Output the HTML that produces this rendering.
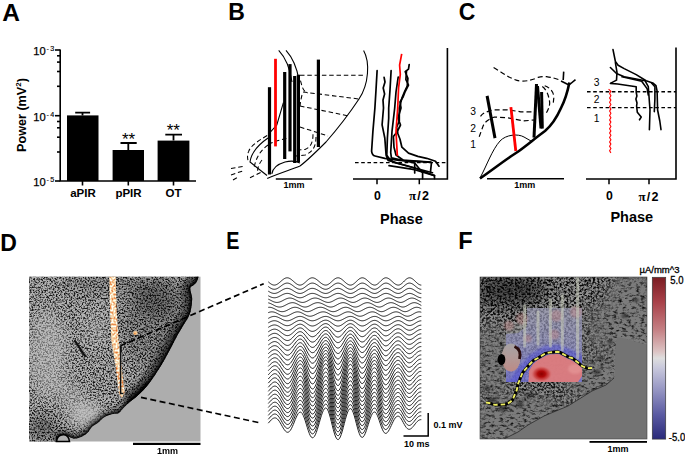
<!DOCTYPE html>
<html><head><meta charset="utf-8"><style>
html,body{margin:0;padding:0;background:#fff;}
svg{display:block;}
</style></head><body>
<svg width="685" height="455" viewBox="0 0 685 455">
<text x="2.2" y="21" font-family="Liberation Sans" font-weight="bold" font-size="24.5">A</text>
<text x="228.3" y="20.3" font-family="Liberation Sans" font-weight="bold" font-size="23">B</text>
<text x="458.8" y="20.3" font-family="Liberation Sans" font-weight="bold" font-size="23">C</text>
<text x="0.3" y="251.2" font-family="Liberation Sans" font-weight="bold" font-size="23">D</text>
<text x="226.2" y="249.4" font-family="Liberation Sans" font-weight="bold" font-size="23" transform="translate(226.2 0) scale(0.86 1) translate(-226.2 0)">E</text>
<text x="458.3" y="248.8" font-family="Liberation Sans" font-weight="bold" font-size="23.5">F</text>
<g stroke="#000" stroke-width="1.6" fill="none">
<path d="M60.2 49.5 V181 H196"/>
<path d="M55 50 H60.2"/>
<path d="M55 115.7 H60.2"/>
<path d="M55 181 H60.2"/>
<path d="M57 55.8 H60.2"/>
<path d="M57 62.1 H60.2"/>
<path d="M57 71.5 H60.2"/>
<path d="M57 86.3 H60.2"/>
<path d="M57 121.5 H60.2"/>
<path d="M57 127.8 H60.2"/>
<path d="M57 137.2 H60.2"/>
<path d="M57 152.0 H60.2"/>
<path d="M82.5 181 V185.5"/>
<path d="M128.3 181 V185.5"/>
<path d="M173.5 181 V185.5"/>
<path d="M82.5 115.4 V112.7 M75.2 112.7 H90.1" stroke-width="1.8"/>
<path d="M128.3 150 V143 M120.5 143 H136.7" stroke-width="1.8"/>
<path d="M173.5 140.6 V134.7 M165.3 134.7 H182" stroke-width="1.8"/>
</g>
<g fill="#000">
<rect x="67" y="115.4" width="31.5" height="65.6"/>
<rect x="112.6" y="150" width="31.400000000000006" height="31"/>
<rect x="157.6" y="140.6" width="31.80000000000001" height="40.400000000000006"/>
</g>
<text x="45.8" y="55" font-family="Liberation Sans" font-size="11.2" text-anchor="end" stroke="#000" stroke-width="0.25">10</text>
<text x="46.4" y="51.3" font-family="Liberation Sans" font-size="7.2" stroke="#000" stroke-width="0.15">-</text>
<text x="50.2" y="51.3" font-family="Liberation Sans" font-size="7.2" stroke="#000" stroke-width="0.15">3</text>
<text x="45.8" y="120.7" font-family="Liberation Sans" font-size="11.2" text-anchor="end" stroke="#000" stroke-width="0.25">10</text>
<text x="46.4" y="117.0" font-family="Liberation Sans" font-size="7.2" stroke="#000" stroke-width="0.15">-</text>
<text x="50.2" y="117.0" font-family="Liberation Sans" font-size="7.2" stroke="#000" stroke-width="0.15">4</text>
<text x="45.8" y="185.8" font-family="Liberation Sans" font-size="11.2" text-anchor="end" stroke="#000" stroke-width="0.25">10</text>
<text x="46.4" y="182.10000000000002" font-family="Liberation Sans" font-size="7.2" stroke="#000" stroke-width="0.15">-</text>
<text x="50.2" y="182.10000000000002" font-family="Liberation Sans" font-size="7.2" stroke="#000" stroke-width="0.15">5</text>
<text x="83" y="196.5" font-family="Liberation Sans" font-weight="bold" font-size="11.5" text-anchor="middle">aPIR</text>
<text x="128.5" y="196.5" font-family="Liberation Sans" font-weight="bold" font-size="11.5" text-anchor="middle">pPIR</text>
<text x="173.5" y="196.5" font-family="Liberation Sans" font-weight="bold" font-size="11.5" text-anchor="middle">OT</text>
<text x="128.5" y="145" font-family="Liberation Sans" font-size="17" text-anchor="middle">**</text>
<text x="173.3" y="136.3" font-family="Liberation Sans" font-size="17" text-anchor="middle">**</text>
<text transform="translate(25.6 115) rotate(-90)" font-family="Liberation Sans" font-weight="bold" font-size="12.6" text-anchor="middle">Power (mV<tspan font-size="8" dy="-5">2</tspan><tspan dy="5">)</tspan></text>
<g fill="none" stroke="#000" stroke-width="1.1">
<path d="M363.6 50.6 C370 62 369 84 359 99 C351 111 340 126 326 142 C318 150 308 160 300 166 C290 170 280 173 267.2 178.4"/>
<path d="M278.7 50.3 C286 58 290 68 292 82"/>
<path d="M286 50.3 C293 58 297 68 299 80"/>
<path d="M283.4 102.6 L276.8 125 L268.2 134.3"/>
<path d="M268 138 C258 145 251 153 250 162 L267 175.5"/>
<path d="M271.8 173.8 C273 167 278 164 285 162 C291 160.5 296 161 300 163"/>
</g>
<g fill="none" stroke="#000" stroke-width="1.05" stroke-dasharray="4.5 2.8">
<path d="M300 75.3 H365"/>
<path d="M303 92 L359 99"/>
<path d="M300 106 L349 116"/>
<path d="M300 127 L328 136"/>
<path d="M300.5 80.6 C302 86 302.5 91 307.7 93.1"/>
<path d="M302 95 C301 99 300.5 102 300 106"/>
<path d="M313 134.3 C313 142 311 147 305 149.5 L296 150"/>
<path d="M316 137 C316 146 313 152 305 155 L296 156"/>
<path d="M267.2 135.5 C256 142 250 147 248.7 151.4 C247 155 247.5 158 248 160.6"/>
<path d="M268 145 C261 150 256 157 254 168"/>
<path d="M268.2 144.2 C276 141 282 139 289.3 138.2"/>
<path d="M262 160 C258 165 257 170 258 174"/>
<path d="M231 168.5 L243 166.5"/>
<path d="M231 175 L244 170.5"/>
<path d="M233 180 L238 177"/>
<path d="M250 177.7 L260.6 172.5"/>
</g>
<g stroke="#000" stroke-width="3.2" fill="none">
<path d="M269.5 87.2 V174.5"/>
<path d="M284.7 72 V159"/>
<path d="M290 64.1 V151.4"/>
<path d="M294.7 76 V163"/>
<path d="M298.4 74.7 V162"/>
<path d="M318.4 59.6 V147"/>
</g>
<path d="M275.5 58.8 V146.4" stroke="#f00" stroke-width="2.8"/>
<path d="M275.8 179 H312.2" stroke="#000" stroke-width="1.6"/>
<text x="294" y="187.8" font-family="Liberation Sans" font-weight="bold" font-size="9" text-anchor="middle">1mm</text>
<path d="M447.4 48 V179 H353" fill="none" stroke="#000" stroke-width="1.6"/>
<path d="M377 179 V184.3 M419.3 179 V184.3" stroke="#000" stroke-width="1.5"/>
<path d="M355 162.6 H447.4" stroke="#000" stroke-width="1.4" stroke-dasharray="3.6 2.6"/>
<g fill="none" stroke="#000" stroke-width="1.7" stroke-linejoin="round" stroke-linecap="round">
<path d="M377.1 70.7 L376 90 L374.9 108 L372.9 131.4 L371.6 151.2 Q372 155.5 375 156 L384.8 158.4 L399.3 160.4 L431.5 162.3 L430.5 171.7"/>
<path d="M384.1 77.3 L385 82 L383.2 88 L384.6 94 L383 100 L383.5 108 L382.1 124.8 L384.8 138 L386.1 155.1 L388.1 160.4 L414.7 168 L434.5 175.6 V178.6"/>
<path d="M391.1 70.7 L390 90 L388.7 108 L388.7 118.2 L387.4 138 L386.8 155.1 Q390 161 396 163 L432.5 172.7"/>
<path d="M398.2 77 L396 92 L394.7 108 L392 131.4 L390.7 152.5 L391.4 157.8 L414.7 163 L422.6 172.7 V178.6"/>
<path d="M409.2 64.5 L408.5 69.1 L405.2 71.7 L407.9 78.3 L407.2 86.2 L404.6 91.5 L401.9 98.1 L400.6 103.4 L399.3 108 L399.3 120.8 L396.6 127.4 L398 134 L400 139.3 L401.9 147.2 L408.5 153.1 L417.8 156.4 L426.6 158.3 L435.5 161.3 L439 166.2"/>
<path d="M406.5 71 L405.9 79.6 L408.5 85 L405.2 91.5 L403.2 96.8 L400 102 L401 108 L398 118 L400.5 125 L397 132 L393.4 136.6 L394 147.2 L396 155 L403 160 L430.5 162"/>
<path d="M389 165.7 L414.7 169.7 L434.5 175.6"/>
<path d="M414.7 163 V173"/>
</g>
<path d="M401.7 53.9 L399.6 65.1 L400.3 74.4 L398.6 87.6 L397.7 108 L396 131.4 L397.3 155.1 L397.9 155.8" fill="none" stroke="#f00" stroke-width="1.7"/>
<text x="377.4" y="199.7" font-family="Liberation Sans" font-weight="bold" font-size="12.3" text-anchor="middle">0</text>
<text x="409" y="200" font-family="Liberation Serif" font-weight="bold" font-size="13">π</text><text x="417.2" y="200" font-family="Liberation Sans" font-weight="bold" font-size="12.5">/</text><text x="422.1" y="200" font-family="Liberation Sans" font-weight="bold" font-size="12.5">2</text>
<text x="401.4" y="223.8" font-family="Liberation Sans" font-weight="bold" font-size="14.5" text-anchor="middle">Phase</text>
<g fill="none" stroke="#000" stroke-width="1.2" stroke-dasharray="5 3">
<path d="M493.6 67.6 C503 73 512 80 520 81 C527 81.5 532 80 538.1 77.4 C541 76.6 544 76.4 546.4 76.6 C552 77.5 556 78.5 559.6 79.9"/>
<path d="M480.5 116.4 C483 113 486 111.5 494.4 109.8 L507.6 109.8 L520.7 111.8 L534 112"/>
<path d="M479.2 136.8 L482.5 127.6 C484 123 486 120.5 494.4 117 L507.6 117.7 L523.4 121 L534 120"/>
<path d="M542.3 86.5 C546 89 549 95 549.7 103 C549.5 107 548 110 546.4 112.9"/>
<path d="M544.7 85.7 C551 88 554 93 553.8 98 L553 105.4"/>
</g>
<path d="M480 178 C487 165 492 150 500 141 C506 134.5 518 133.5 524 137 L531 141" fill="none" stroke="#000" stroke-width="1"/>
<path d="M480 178.5 C495 168 505 160 516 153 C525 147 534 139 545 131 C552 125 557 117 561 108 C565 100 567.5 92 569.4 82.4" fill="none" stroke="#000" stroke-width="2.6"/>
<path d="M569 85 L575.5 79.6 M569 85 L561 81 M563.7 71.6 L563.2 80" fill="none" stroke="#000" stroke-width="1.6"/>
<g stroke="#000" stroke-width="3" fill="none">
<path d="M487.1 95.9 L495 138.1"/><path d="M536.5 84 L534 137.6"/><path d="M537.5 86 L541 128.5"/><path d="M541.6 92 L542.3 128.5"/>
</g>
<path d="M510.9 107.1 L515.8 151" stroke="#f00" stroke-width="2.8"/>
<text x="470.2" y="115" font-family="Liberation Sans" font-size="10.3">3</text>
<text x="470.2" y="132.2" font-family="Liberation Sans" font-size="10.3">2</text>
<text x="470.2" y="148" font-family="Liberation Sans" font-size="10.3">1</text>
<path d="M487 178.8 H564" stroke="#000" stroke-width="1.6"/>
<text x="524.7" y="188.4" font-family="Liberation Sans" font-weight="bold" font-size="9" text-anchor="middle">1mm</text>
<path d="M676 47.6 V179 H586" fill="none" stroke="#000" stroke-width="1.6"/>
<path d="M609 179 V184.3 M649 179 V184.3" stroke="#000" stroke-width="1.5"/>
<path d="M587 91.7 H676 M587 107.6 H676" stroke="#000" stroke-width="1.4" stroke-dasharray="3.6 2.6"/>
<text x="593.8" y="86" font-family="Liberation Sans" font-size="10.3">3</text>
<text x="593.8" y="103" font-family="Liberation Sans" font-size="10.3">2</text>
<text x="593.8" y="122" font-family="Liberation Sans" font-size="10.3">1</text>
<g fill="none" stroke="#000" stroke-width="1.6" stroke-linejoin="round" stroke-linecap="round">
<path d="M613 49.6 L615.4 61.5 L618.1 65.3 L624.2 68.6 L636.2 74.6 L646.1 80.7 L652.7 82.9 L656 85.6 L657.1 91.1 L657.6 110 L659.8 121 L661 129.7"/>
<path d="M610.4 67.5 L616.5 73.5 L624.2 76.8 L636.2 79 L645 80.7 L648.3 86.7 L648.9 95 L650 110 L649.4 129.7"/>
<path d="M615.4 62.6 L617 72.4 L616.5 80.1 L610.4 83.4 L617.6 84 L636.2 86.7 L636.2 92 L636.9 96 L635.9 99 L637 103 L636.6 106 L637.3 112.2 L641.2 117.1 L639.5 119.8"/>
<path d="M622 76.8 L641.7 81.2 L647.2 88.9 L648.3 95"/>
<path d="M651.6 82.9 L654.9 86.7 L654.9 99 L654.3 111.6"/>
</g>
<path d="M608.6 89.1 L610.9 91.3 L609.6 93.5 L610.9 95.7 L609.6 97.9 L610.9 100.1 L609.6 102.3 L610.9 104.5 L609.6 106.7 L610.9 108.9 L609.6 111.1 L610.9 113.3 L609.6 115.5 L610.9 117.7 L609.6 119.9 L610.9 122.1 L609.6 124.3 L610.9 126.5 L609.6 128.7 L610.9 130.9 L609.6 133.1 L610.9 135.3 L609.6 137.5 L610.9 139.7 L609.6 141.9 L610.9 144.1 L609.6 146.3 L610.9 148.5 L609.6 150.7 L610.9 152.9" fill="none" stroke="#f00" stroke-width="1.1"/>
<text x="609.3" y="200.2" font-family="Liberation Sans" font-weight="bold" font-size="12.3" text-anchor="middle">0</text>
<text x="638.5" y="201.2" font-family="Liberation Serif" font-weight="bold" font-size="13">π</text><text x="646.7" y="201.2" font-family="Liberation Sans" font-weight="bold" font-size="12.5">/</text><text x="651.6" y="201.2" font-family="Liberation Sans" font-weight="bold" font-size="12.5">2</text>
<text x="631.8" y="222" font-family="Liberation Sans" font-weight="bold" font-size="14.5" text-anchor="middle">Phase</text>
<g fill="none" stroke="#202020" stroke-width="1.0">
<path d="M268.3 281.85 L269.3 282.71 L270.3 283.50 L271.3 284.17 L272.3 284.68 L273.3 284.99 L274.3 285.10 L275.3 284.99 L276.3 284.68 L277.3 284.17 L278.3 283.50 L279.3 282.71 L280.3 281.85 L281.3 280.96 L282.3 280.10 L283.3 279.33 L284.3 278.67 L285.3 278.18 L286.3 277.89 L287.3 277.80 L288.3 277.93 L289.3 278.27 L290.3 278.81 L291.3 279.50 L292.3 280.31 L293.3 281.18 L294.3 282.07 L295.3 282.93 L296.3 283.70 L297.3 284.33 L298.3 284.79 L299.3 285.05 L300.3 285.09 L301.3 284.90 L302.3 284.49 L303.3 283.88 L304.3 283.11 L305.3 282.24 L306.3 281.31 L307.3 280.39 L308.3 279.54 L309.3 278.82 L310.3 278.27 L311.3 277.92 L312.3 277.80 L313.3 277.90 L314.3 278.19 L315.3 278.67 L316.3 279.29 L317.3 280.03 L318.3 280.85 L319.3 281.71 L320.3 282.55 L321.3 283.32 L322.3 284.00 L323.3 284.54 L324.3 284.91 L325.3 285.08 L326.3 285.06 L327.3 284.80 L328.3 284.32 L329.3 283.66 L330.3 282.86 L331.3 281.96 L332.3 281.03 L333.3 280.13 L334.3 279.31 L335.3 278.63 L336.3 278.14 L337.3 277.86 L338.3 277.81 L339.3 277.99 L340.3 278.39 L341.3 278.99 L342.3 279.73 L343.3 280.59 L344.3 281.50 L345.3 282.40 L346.3 283.25 L347.3 283.98 L348.3 284.56 L349.3 284.94 L350.3 285.10 L351.3 285.02 L352.3 284.69 L353.3 284.13 L354.3 283.39 L355.3 282.50 L356.3 281.55 L357.3 280.58 L358.3 279.68 L359.3 278.90 L360.3 278.31 L361.3 277.93 L362.3 277.80 L363.3 277.92 L364.3 278.26 L365.3 278.80 L366.3 279.52 L367.3 280.36 L368.3 281.27 L369.3 282.18 L370.3 283.06 L371.3 283.83 L372.3 284.45 L373.3 284.87 L374.3 285.08 L375.3 285.05 L376.3 284.74 L377.3 284.17 L378.3 283.39 L379.3 282.46 L380.3 281.45 L381.3 280.44 L382.3 279.51 L383.3 278.73 L384.3 278.16 L385.3 277.85 L386.3 277.82 L387.3 278.03 L388.3 278.45 L389.3 279.07 L390.3 279.84 L391.3 280.72 L392.3 281.63 L393.3 282.54 L394.3 283.38 L395.3 284.10 L396.3 284.64 L397.3 284.98 L398.3 285.10 L399.3 284.96 L400.3 284.54 L401.3 283.88 L402.3 283.03 L403.3 282.06 L404.3 281.04 L405.3 280.05 L406.3 279.17 L407.3 278.47 L408.3 278.00 L409.3 277.81 L410.3 277.88 L411.3 278.21 L412.3 278.77 L413.3 279.51 L414.3 280.40 L415.3 281.35 L416.3 282.32 L417.3 283.22 L418.3 284.00 L419.3 284.59 L420.3 284.97 L421.3 285.10"/>
<path d="M268.3 286.53 L269.3 287.26 L270.3 287.93 L271.3 288.50 L272.3 288.93 L273.3 289.20 L274.3 289.29 L275.3 289.20 L276.3 288.93 L277.3 288.50 L278.3 287.93 L279.3 287.26 L280.3 286.53 L281.3 285.77 L282.3 285.04 L283.3 284.38 L284.3 283.83 L285.3 283.41 L286.3 283.16 L287.3 283.09 L288.3 283.20 L289.3 283.49 L290.3 283.94 L291.3 284.53 L292.3 285.21 L293.3 285.96 L294.3 286.72 L295.3 287.44 L296.3 288.09 L297.3 288.63 L298.3 289.02 L299.3 289.24 L300.3 289.28 L301.3 289.12 L302.3 288.77 L303.3 288.25 L304.3 287.60 L305.3 286.85 L306.3 286.07 L307.3 285.29 L308.3 284.57 L309.3 283.95 L310.3 283.48 L311.3 283.19 L312.3 283.09 L313.3 283.17 L314.3 283.42 L315.3 283.82 L316.3 284.35 L317.3 284.98 L318.3 285.68 L319.3 286.40 L320.3 287.12 L321.3 287.78 L322.3 288.35 L323.3 288.81 L324.3 289.12 L325.3 289.27 L326.3 289.25 L327.3 289.03 L328.3 288.63 L329.3 288.07 L330.3 287.38 L331.3 286.62 L332.3 285.83 L333.3 285.06 L334.3 284.37 L335.3 283.79 L336.3 283.37 L337.3 283.14 L338.3 283.09 L339.3 283.25 L340.3 283.59 L341.3 284.09 L342.3 284.73 L343.3 285.45 L344.3 286.23 L345.3 287.00 L346.3 287.71 L347.3 288.34 L348.3 288.83 L349.3 289.15 L350.3 289.28 L351.3 289.22 L352.3 288.94 L353.3 288.47 L354.3 287.83 L355.3 287.08 L356.3 286.27 L357.3 285.45 L358.3 284.68 L359.3 284.02 L360.3 283.52 L361.3 283.20 L362.3 283.09 L363.3 283.18 L364.3 283.48 L365.3 283.94 L366.3 284.55 L367.3 285.26 L368.3 286.03 L369.3 286.81 L370.3 287.55 L371.3 288.21 L372.3 288.73 L373.3 289.09 L374.3 289.27 L375.3 289.24 L376.3 288.98 L377.3 288.50 L378.3 287.84 L379.3 287.05 L380.3 286.19 L381.3 285.33 L382.3 284.54 L383.3 283.87 L384.3 283.39 L385.3 283.13 L386.3 283.10 L387.3 283.28 L388.3 283.64 L389.3 284.17 L390.3 284.82 L391.3 285.56 L392.3 286.34 L393.3 287.11 L394.3 287.83 L395.3 288.43 L396.3 288.90 L397.3 289.19 L398.3 289.29 L399.3 289.17 L400.3 288.81 L401.3 288.25 L402.3 287.53 L403.3 286.71 L404.3 285.84 L405.3 285.00 L406.3 284.25 L407.3 283.66 L408.3 283.26 L409.3 283.09 L410.3 283.16 L411.3 283.44 L412.3 283.91 L413.3 284.54 L414.3 285.29 L415.3 286.10 L416.3 286.92 L417.3 287.69 L418.3 288.35 L419.3 288.86 L420.3 289.18 L421.3 289.29"/>
<path d="M268.3 291.18 L269.3 291.78 L270.3 292.33 L271.3 292.80 L272.3 293.15 L273.3 293.37 L274.3 293.45 L275.3 293.37 L276.3 293.15 L277.3 292.80 L278.3 292.33 L279.3 291.78 L280.3 291.18 L281.3 290.56 L282.3 289.96 L283.3 289.41 L284.3 288.96 L285.3 288.61 L286.3 288.41 L287.3 288.35 L288.3 288.44 L289.3 288.68 L290.3 289.05 L291.3 289.53 L292.3 290.10 L293.3 290.71 L294.3 291.33 L295.3 291.93 L296.3 292.47 L297.3 292.91 L298.3 293.23 L299.3 293.41 L300.3 293.44 L301.3 293.31 L302.3 293.02 L303.3 292.59 L304.3 292.06 L305.3 291.45 L306.3 290.80 L307.3 290.16 L308.3 289.56 L309.3 289.06 L310.3 288.67 L311.3 288.43 L312.3 288.35 L313.3 288.41 L314.3 288.62 L315.3 288.95 L316.3 289.39 L317.3 289.91 L318.3 290.48 L319.3 291.08 L320.3 291.66 L321.3 292.21 L322.3 292.68 L323.3 293.05 L324.3 293.31 L325.3 293.44 L326.3 293.42 L327.3 293.24 L328.3 292.91 L329.3 292.44 L330.3 291.88 L331.3 291.25 L332.3 290.60 L333.3 289.97 L334.3 289.40 L335.3 288.93 L336.3 288.58 L337.3 288.39 L338.3 288.35 L339.3 288.48 L340.3 288.76 L341.3 289.17 L342.3 289.70 L343.3 290.29 L344.3 290.93 L345.3 291.56 L346.3 292.15 L347.3 292.67 L348.3 293.07 L349.3 293.33 L350.3 293.44 L351.3 293.39 L352.3 293.16 L353.3 292.77 L354.3 292.25 L355.3 291.63 L356.3 290.96 L357.3 290.29 L358.3 289.66 L359.3 289.12 L360.3 288.70 L361.3 288.44 L362.3 288.35 L363.3 288.43 L364.3 288.67 L365.3 289.05 L366.3 289.55 L367.3 290.13 L368.3 290.77 L369.3 291.41 L370.3 292.02 L371.3 292.56 L372.3 292.99 L373.3 293.29 L374.3 293.44 L375.3 293.41 L376.3 293.20 L377.3 292.80 L378.3 292.25 L379.3 291.60 L380.3 290.90 L381.3 290.19 L382.3 289.54 L383.3 288.99 L384.3 288.60 L385.3 288.38 L386.3 288.36 L387.3 288.50 L388.3 288.80 L389.3 289.23 L390.3 289.77 L391.3 290.38 L392.3 291.03 L393.3 291.66 L394.3 292.25 L395.3 292.75 L396.3 293.13 L397.3 293.37 L398.3 293.45 L399.3 293.35 L400.3 293.06 L401.3 292.60 L402.3 292.00 L403.3 291.32 L404.3 290.61 L405.3 289.92 L406.3 289.31 L407.3 288.82 L408.3 288.49 L409.3 288.35 L410.3 288.40 L411.3 288.63 L412.3 289.02 L413.3 289.54 L414.3 290.16 L415.3 290.83 L416.3 291.50 L417.3 292.13 L418.3 292.68 L419.3 293.09 L420.3 293.36 L421.3 293.45"/>
<path d="M268.3 295.78 L269.3 296.30 L270.3 296.78 L271.3 297.19 L272.3 297.50 L273.3 297.70 L274.3 297.78 L275.3 297.72 L276.3 297.54 L277.3 297.25 L278.3 296.85 L279.3 296.38 L280.3 295.86 L281.3 295.33 L282.3 294.81 L283.3 294.33 L284.3 293.93 L285.3 293.63 L286.3 293.44 L287.3 293.38 L288.3 293.45 L289.3 293.65 L290.3 293.96 L291.3 294.37 L292.3 294.85 L293.3 295.38 L294.3 295.91 L295.3 296.43 L296.3 296.90 L297.3 297.29 L298.3 297.57 L299.3 297.74 L300.3 297.78 L301.3 297.67 L302.3 297.43 L303.3 297.07 L304.3 296.62 L305.3 296.09 L306.3 295.54 L307.3 294.98 L308.3 294.47 L309.3 294.02 L310.3 293.68 L311.3 293.46 L312.3 293.38 L313.3 293.43 L314.3 293.60 L315.3 293.88 L316.3 294.25 L317.3 294.69 L318.3 295.18 L319.3 295.69 L320.3 296.20 L321.3 296.67 L322.3 297.09 L323.3 297.42 L324.3 297.65 L325.3 297.77 L326.3 297.76 L327.3 297.62 L328.3 297.34 L329.3 296.95 L330.3 296.47 L331.3 295.93 L332.3 295.37 L333.3 294.82 L334.3 294.33 L335.3 293.91 L336.3 293.60 L337.3 293.42 L338.3 293.38 L339.3 293.48 L340.3 293.71 L341.3 294.06 L342.3 294.51 L343.3 295.02 L344.3 295.57 L345.3 296.11 L346.3 296.63 L347.3 297.08 L348.3 297.43 L349.3 297.67 L350.3 297.77 L351.3 297.74 L352.3 297.55 L353.3 297.22 L354.3 296.78 L355.3 296.26 L356.3 295.68 L357.3 295.10 L358.3 294.55 L359.3 294.08 L360.3 293.71 L361.3 293.47 L362.3 293.38 L363.3 293.44 L364.3 293.64 L365.3 293.96 L366.3 294.38 L367.3 294.88 L368.3 295.43 L369.3 295.98 L370.3 296.51 L371.3 296.98 L372.3 297.36 L373.3 297.63 L374.3 297.76 L375.3 297.76 L376.3 297.58 L377.3 297.25 L378.3 296.79 L379.3 296.23 L380.3 295.62 L381.3 295.01 L382.3 294.45 L383.3 293.97 L384.3 293.62 L385.3 293.42 L386.3 293.39 L387.3 293.50 L388.3 293.75 L389.3 294.12 L390.3 294.57 L391.3 295.10 L392.3 295.65 L393.3 296.20 L394.3 296.71 L395.3 297.15 L396.3 297.48 L397.3 297.70 L398.3 297.78 L399.3 297.71 L400.3 297.46 L401.3 297.08 L402.3 296.57 L403.3 295.99 L404.3 295.38 L405.3 294.78 L406.3 294.24 L407.3 293.81 L408.3 293.52 L409.3 293.39 L410.3 293.42 L411.3 293.61 L412.3 293.94 L413.3 294.38 L414.3 294.90 L415.3 295.48 L416.3 296.06 L417.3 296.61 L418.3 297.08 L419.3 297.45 L420.3 297.69 L421.3 297.78"/>
<path d="M268.3 299.10 L269.3 299.59 L270.3 300.11 L271.3 300.64 L272.3 301.15 L273.3 301.61 L274.3 301.98 L275.3 302.25 L276.3 302.41 L277.3 302.43 L278.3 302.32 L279.3 302.10 L280.3 301.76 L281.3 301.33 L282.3 300.84 L283.3 300.31 L284.3 299.78 L285.3 299.27 L286.3 298.82 L287.3 298.46 L288.3 298.20 L289.3 298.06 L290.3 298.05 L291.3 298.17 L292.3 298.42 L293.3 298.77 L294.3 299.22 L295.3 299.72 L296.3 300.26 L297.3 300.79 L298.3 301.29 L299.3 301.73 L300.3 302.08 L301.3 302.32 L302.3 302.43 L303.3 302.40 L304.3 302.22 L305.3 301.92 L306.3 301.51 L307.3 301.01 L308.3 300.47 L309.3 299.91 L310.3 299.37 L311.3 298.88 L312.3 298.49 L313.3 298.23 L314.3 298.07 L315.3 298.04 L316.3 298.12 L317.3 298.33 L318.3 298.63 L319.3 299.02 L320.3 299.48 L321.3 299.99 L322.3 300.50 L323.3 301.00 L324.3 301.46 L325.3 301.85 L326.3 302.17 L327.3 302.37 L328.3 302.44 L329.3 302.36 L330.3 302.14 L331.3 301.81 L332.3 301.37 L333.3 300.85 L334.3 300.30 L335.3 299.74 L336.3 299.22 L337.3 298.76 L338.3 298.39 L339.3 298.15 L340.3 298.04 L341.3 298.07 L342.3 298.23 L343.3 298.52 L344.3 298.92 L345.3 299.40 L346.3 299.93 L347.3 300.48 L348.3 301.02 L349.3 301.51 L350.3 301.91 L351.3 302.23 L352.3 302.40 L353.3 302.43 L354.3 302.30 L355.3 302.02 L356.3 301.62 L357.3 301.12 L358.3 300.56 L359.3 299.98 L360.3 299.41 L361.3 298.90 L362.3 298.49 L363.3 298.21 L364.3 298.06 L365.3 298.05 L366.3 298.18 L367.3 298.44 L368.3 298.81 L369.3 299.28 L370.3 299.80 L371.3 300.36 L372.3 300.91 L373.3 301.41 L374.3 301.84 L375.3 302.18 L376.3 302.39 L377.3 302.43 L378.3 302.30 L379.3 302.01 L380.3 301.57 L381.3 301.04 L382.3 300.44 L383.3 299.83 L384.3 299.24 L385.3 298.74 L386.3 298.36 L387.3 298.13 L388.3 298.04 L389.3 298.08 L390.3 298.27 L391.3 298.57 L392.3 298.99 L393.3 299.48 L394.3 300.03 L395.3 300.58 L396.3 301.11 L397.3 301.59 L398.3 301.98 L399.3 302.29 L400.3 302.43 L401.3 302.40 L402.3 302.20 L403.3 301.85 L404.3 301.37 L405.3 300.80 L406.3 300.19 L407.3 299.59 L408.3 299.03 L409.3 298.57 L410.3 298.25 L411.3 298.07 L412.3 298.05 L413.3 298.18 L414.3 298.45 L415.3 298.85 L416.3 299.35 L417.3 299.91 L418.3 300.50 L419.3 301.06 L420.3 301.57 L421.3 301.98"/>
<path d="M268.3 302.83 L269.3 303.10 L270.3 303.46 L271.3 303.91 L272.3 304.42 L273.3 304.95 L274.3 305.48 L275.3 305.97 L276.3 306.40 L277.3 306.73 L278.3 306.96 L279.3 307.06 L280.3 307.03 L281.3 306.88 L282.3 306.60 L283.3 306.23 L284.3 305.77 L285.3 305.26 L286.3 304.73 L287.3 304.20 L288.3 303.71 L289.3 303.29 L290.3 302.97 L291.3 302.75 L292.3 302.67 L293.3 302.71 L294.3 302.89 L295.3 303.18 L296.3 303.58 L297.3 304.05 L298.3 304.57 L299.3 305.11 L300.3 305.64 L301.3 306.14 L302.3 306.55 L303.3 306.85 L304.3 307.03 L305.3 307.06 L306.3 306.95 L307.3 306.71 L308.3 306.35 L309.3 305.89 L310.3 305.36 L311.3 304.81 L312.3 304.25 L313.3 303.78 L314.3 303.36 L315.3 303.03 L316.3 302.80 L317.3 302.68 L318.3 302.68 L319.3 302.80 L320.3 303.04 L321.3 303.37 L322.3 303.78 L323.3 304.26 L324.3 304.77 L325.3 305.28 L326.3 305.80 L327.3 306.27 L328.3 306.65 L329.3 306.92 L330.3 307.05 L331.3 307.04 L332.3 306.90 L333.3 306.61 L334.3 306.22 L335.3 305.74 L336.3 305.20 L337.3 304.64 L338.3 304.10 L339.3 303.61 L340.3 303.20 L341.3 302.89 L342.3 302.71 L343.3 302.67 L344.3 302.76 L345.3 302.99 L346.3 303.33 L347.3 303.77 L348.3 304.28 L349.3 304.82 L350.3 305.37 L351.3 305.91 L352.3 306.38 L353.3 306.75 L354.3 306.98 L355.3 307.07 L356.3 307.00 L357.3 306.77 L358.3 306.42 L359.3 305.95 L360.3 305.41 L361.3 304.83 L362.3 304.25 L363.3 303.74 L364.3 303.31 L365.3 302.97 L366.3 302.75 L367.3 302.67 L368.3 302.73 L369.3 302.92 L370.3 303.24 L371.3 303.66 L372.3 304.16 L373.3 304.71 L374.3 305.26 L375.3 305.83 L376.3 306.34 L377.3 306.73 L378.3 306.98 L379.3 307.07 L380.3 306.98 L381.3 306.73 L382.3 306.33 L383.3 305.82 L384.3 305.23 L385.3 304.62 L386.3 304.04 L387.3 303.56 L388.3 303.16 L389.3 302.86 L390.3 302.70 L391.3 302.67 L392.3 302.79 L393.3 303.03 L394.3 303.40 L395.3 303.86 L396.3 304.38 L397.3 304.93 L398.3 305.48 L399.3 306.04 L400.3 306.51 L401.3 306.85 L402.3 307.04 L403.3 307.05 L404.3 306.90 L405.3 306.58 L406.3 306.14 L407.3 305.59 L408.3 304.99 L409.3 304.37 L410.3 303.82 L411.3 303.35 L412.3 302.98 L413.3 302.75 L414.3 302.67 L415.3 302.74 L416.3 302.96 L417.3 303.32 L418.3 303.78 L419.3 304.32 L420.3 304.90 L421.3 305.48"/>
<path d="M268.3 307.33 L269.3 307.27 L270.3 307.34 L271.3 307.53 L272.3 307.83 L273.3 308.24 L274.3 308.71 L275.3 309.23 L276.3 309.77 L277.3 310.28 L278.3 310.75 L279.3 311.15 L280.3 311.44 L281.3 311.62 L282.3 311.67 L283.3 311.59 L284.3 311.39 L285.3 311.07 L286.3 310.66 L287.3 310.18 L288.3 309.65 L289.3 309.11 L290.3 308.60 L291.3 308.13 L292.3 307.75 L293.3 307.47 L294.3 307.31 L295.3 307.27 L296.3 307.38 L297.3 307.60 L298.3 307.94 L299.3 308.37 L300.3 308.87 L301.3 309.43 L302.3 309.98 L303.3 310.51 L304.3 310.96 L305.3 311.32 L306.3 311.56 L307.3 311.67 L308.3 311.63 L309.3 311.45 L310.3 311.14 L311.3 310.73 L312.3 310.23 L313.3 309.73 L314.3 309.21 L315.3 308.71 L316.3 308.25 L317.3 307.86 L318.3 307.56 L319.3 307.36 L320.3 307.27 L321.3 307.31 L322.3 307.46 L323.3 307.73 L324.3 308.09 L325.3 308.52 L326.3 309.04 L327.3 309.59 L328.3 310.14 L329.3 310.65 L330.3 311.08 L331.3 311.41 L332.3 311.61 L333.3 311.67 L334.3 311.59 L335.3 311.37 L336.3 311.03 L337.3 310.58 L338.3 310.07 L339.3 309.53 L340.3 308.98 L341.3 308.46 L342.3 308.01 L343.3 307.64 L344.3 307.40 L345.3 307.28 L346.3 307.30 L347.3 307.46 L348.3 307.74 L349.3 308.13 L350.3 308.61 L351.3 309.16 L352.3 309.75 L353.3 310.31 L354.3 310.82 L355.3 311.23 L356.3 311.51 L357.3 311.66 L358.3 311.64 L359.3 311.48 L360.3 311.17 L361.3 310.75 L362.3 310.23 L363.3 309.69 L364.3 309.13 L365.3 308.60 L366.3 308.12 L367.3 307.73 L368.3 307.45 L369.3 307.29 L370.3 307.28 L371.3 307.41 L372.3 307.67 L373.3 308.04 L374.3 308.51 L375.3 309.07 L376.3 309.68 L377.3 310.28 L378.3 310.81 L379.3 311.24 L380.3 311.53 L381.3 311.66 L382.3 311.62 L383.3 311.41 L384.3 311.05 L385.3 310.56 L386.3 310.02 L387.3 309.46 L388.3 308.91 L389.3 308.40 L390.3 307.95 L391.3 307.60 L392.3 307.37 L393.3 307.27 L394.3 307.32 L395.3 307.50 L396.3 307.80 L397.3 308.22 L398.3 308.71 L399.3 309.31 L400.3 309.93 L401.3 310.50 L402.3 311.00 L403.3 311.38 L404.3 311.61 L405.3 311.67 L406.3 311.56 L407.3 311.28 L408.3 310.87 L409.3 310.34 L410.3 309.78 L411.3 309.19 L412.3 308.63 L413.3 308.12 L414.3 307.71 L415.3 307.43 L416.3 307.28 L417.3 307.30 L418.3 307.46 L419.3 307.77 L420.3 308.19 L421.3 308.71"/>
<path d="M268.3 312.64 L269.3 312.27 L270.3 312.01 L271.3 311.87 L272.3 311.86 L273.3 311.97 L274.3 312.21 L275.3 312.56 L276.3 312.99 L277.3 313.49 L278.3 314.02 L279.3 314.55 L280.3 315.05 L281.3 315.49 L282.3 315.85 L283.3 316.10 L284.3 316.23 L285.3 316.23 L286.3 316.10 L287.3 315.85 L288.3 315.49 L289.3 315.05 L290.3 314.54 L291.3 314.00 L292.3 313.47 L293.3 312.97 L294.3 312.54 L295.3 312.19 L296.3 311.96 L297.3 311.85 L298.3 311.88 L299.3 312.03 L300.3 312.31 L301.3 312.71 L302.3 313.19 L303.3 313.73 L304.3 314.29 L305.3 314.84 L306.3 315.33 L307.3 315.74 L308.3 316.04 L309.3 316.21 L310.3 316.24 L311.3 316.13 L312.3 315.88 L313.3 315.55 L314.3 315.14 L315.3 314.66 L316.3 314.15 L317.3 313.64 L318.3 313.15 L319.3 312.71 L320.3 312.34 L321.3 312.06 L322.3 311.90 L323.3 311.85 L324.3 311.92 L325.3 312.11 L326.3 312.42 L327.3 312.84 L328.3 313.35 L329.3 313.90 L330.3 314.46 L331.3 314.99 L332.3 315.46 L333.3 315.84 L334.3 316.10 L335.3 316.23 L336.3 316.22 L337.3 316.07 L338.3 315.79 L339.3 315.40 L340.3 314.92 L341.3 314.39 L342.3 313.84 L343.3 313.30 L344.3 312.81 L345.3 312.40 L346.3 312.09 L347.3 311.90 L348.3 311.85 L349.3 311.93 L350.3 312.15 L351.3 312.51 L352.3 312.98 L353.3 313.52 L354.3 314.10 L355.3 314.68 L356.3 315.21 L357.3 315.66 L358.3 316.00 L359.3 316.20 L360.3 316.24 L361.3 316.14 L362.3 315.88 L363.3 315.52 L364.3 315.06 L365.3 314.54 L366.3 313.99 L367.3 313.44 L368.3 312.93 L369.3 312.49 L370.3 312.15 L371.3 311.93 L372.3 311.85 L373.3 311.90 L374.3 312.10 L375.3 312.44 L376.3 312.92 L377.3 313.49 L378.3 314.10 L379.3 314.70 L380.3 315.26 L381.3 315.72 L382.3 316.05 L383.3 316.22 L384.3 316.23 L385.3 316.06 L386.3 315.75 L387.3 315.35 L388.3 314.86 L389.3 314.32 L390.3 313.77 L391.3 313.23 L392.3 312.74 L393.3 312.34 L394.3 312.05 L395.3 311.88 L396.3 311.85 L397.3 311.97 L398.3 312.21 L399.3 312.62 L400.3 313.14 L401.3 313.73 L402.3 314.34 L403.3 314.93 L404.3 315.46 L405.3 315.87 L406.3 316.14 L407.3 316.25 L408.3 316.18 L409.3 315.95 L410.3 315.58 L411.3 315.12 L412.3 314.57 L413.3 313.99 L414.3 313.42 L415.3 312.88 L416.3 312.43 L417.3 312.10 L418.3 311.90 L419.3 311.85 L420.3 311.96 L421.3 312.21"/>
<path d="M268.3 318.36 L269.3 317.84 L270.3 317.36 L271.3 316.96 L272.3 316.65 L273.3 316.46 L274.3 316.40 L275.3 316.46 L276.3 316.65 L277.3 316.96 L278.3 317.36 L279.3 317.84 L280.3 318.36 L281.3 318.89 L282.3 319.41 L283.3 319.88 L284.3 320.27 L285.3 320.57 L286.3 320.74 L287.3 320.80 L288.3 320.72 L289.3 320.51 L290.3 320.19 L291.3 319.77 L292.3 319.29 L293.3 318.76 L294.3 318.22 L295.3 317.71 L296.3 317.24 L297.3 316.86 L298.3 316.59 L299.3 316.43 L300.3 316.40 L301.3 316.52 L302.3 316.77 L303.3 317.13 L304.3 317.60 L305.3 318.12 L306.3 318.68 L307.3 319.23 L308.3 319.74 L309.3 320.18 L310.3 320.52 L311.3 320.73 L312.3 320.80 L313.3 320.74 L314.3 320.56 L315.3 320.27 L316.3 319.90 L317.3 319.45 L318.3 318.96 L319.3 318.44 L320.3 317.94 L321.3 317.47 L322.3 317.06 L323.3 316.74 L324.3 316.51 L325.3 316.41 L326.3 316.42 L327.3 316.58 L328.3 316.86 L329.3 317.26 L330.3 317.75 L331.3 318.29 L332.3 318.85 L333.3 319.39 L334.3 319.89 L335.3 320.29 L336.3 320.59 L337.3 320.76 L338.3 320.79 L339.3 320.68 L340.3 320.44 L341.3 320.08 L342.3 319.63 L343.3 319.12 L344.3 318.57 L345.3 318.02 L346.3 317.51 L347.3 317.07 L348.3 316.72 L349.3 316.50 L350.3 316.40 L351.3 316.45 L352.3 316.64 L353.3 316.98 L354.3 317.43 L355.3 317.96 L356.3 318.54 L357.3 319.12 L358.3 319.66 L359.3 320.13 L360.3 320.49 L361.3 320.72 L362.3 320.80 L363.3 320.73 L364.3 320.52 L365.3 320.19 L366.3 319.76 L367.3 319.26 L368.3 318.71 L369.3 318.15 L370.3 317.63 L371.3 317.16 L372.3 316.79 L373.3 316.53 L374.3 316.41 L375.3 316.43 L376.3 316.61 L377.3 316.96 L378.3 317.43 L379.3 317.99 L380.3 318.60 L381.3 319.21 L382.3 319.77 L383.3 320.24 L384.3 320.58 L385.3 320.77 L386.3 320.79 L387.3 320.66 L388.3 320.40 L389.3 320.03 L390.3 319.57 L391.3 319.04 L392.3 318.49 L393.3 317.94 L394.3 317.43 L395.3 317.00 L396.3 316.67 L397.3 316.47 L398.3 316.40 L399.3 316.48 L400.3 316.73 L401.3 317.13 L402.3 317.64 L403.3 318.23 L404.3 318.84 L405.3 319.44 L406.3 319.97 L407.3 320.39 L408.3 320.67 L409.3 320.79 L410.3 320.75 L411.3 320.55 L412.3 320.21 L413.3 319.76 L414.3 319.23 L415.3 318.66 L416.3 318.07 L417.3 317.53 L418.3 317.06 L419.3 316.70 L420.3 316.47 L421.3 316.40"/>
<path d="M268.3 322.86 L269.3 322.31 L270.3 321.80 L271.3 321.36 L272.3 321.02 L273.3 320.80 L274.3 320.72 L275.3 320.78 L276.3 320.98 L277.3 321.31 L278.3 321.74 L279.3 322.27 L280.3 322.85 L281.3 323.45 L282.3 324.04 L283.3 324.58 L284.3 325.04 L285.3 325.39 L286.3 325.61 L287.3 325.68 L288.3 325.60 L289.3 325.37 L290.3 325.01 L291.3 324.52 L292.3 323.95 L293.3 323.31 L294.3 322.67 L295.3 322.04 L296.3 321.47 L297.3 320.99 L298.3 320.64 L299.3 320.44 L300.3 320.39 L301.3 320.52 L302.3 320.82 L303.3 321.27 L304.3 321.85 L305.3 322.52 L306.3 323.23 L307.3 323.94 L308.3 324.60 L309.3 325.17 L310.3 325.61 L311.3 325.89 L312.3 326.00 L313.3 325.93 L314.3 325.70 L315.3 325.33 L316.3 324.84 L317.3 324.25 L318.3 323.60 L319.3 322.91 L320.3 322.24 L321.3 321.61 L322.3 321.06 L323.3 320.62 L324.3 320.31 L325.3 320.16 L326.3 320.18 L327.3 320.39 L328.3 320.77 L329.3 321.31 L330.3 321.97 L331.3 322.70 L332.3 323.46 L333.3 324.20 L334.3 324.87 L335.3 325.42 L336.3 325.83 L337.3 326.05 L338.3 326.09 L339.3 325.94 L340.3 325.61 L341.3 325.13 L342.3 324.52 L343.3 323.82 L344.3 323.08 L345.3 322.35 L346.3 321.66 L347.3 321.07 L348.3 320.61 L349.3 320.31 L350.3 320.19 L351.3 320.25 L352.3 320.52 L353.3 320.97 L354.3 321.57 L355.3 322.28 L356.3 323.04 L357.3 323.81 L358.3 324.52 L359.3 325.13 L360.3 325.59 L361.3 325.88 L362.3 325.98 L363.3 325.88 L364.3 325.60 L365.3 325.17 L366.3 324.61 L367.3 323.96 L368.3 323.26 L369.3 322.56 L370.3 321.89 L371.3 321.31 L372.3 320.85 L373.3 320.54 L374.3 320.39 L375.3 320.42 L376.3 320.66 L377.3 321.09 L378.3 321.68 L379.3 322.37 L380.3 323.12 L381.3 323.86 L382.3 324.54 L383.3 325.10 L384.3 325.50 L385.3 325.72 L386.3 325.73 L387.3 325.57 L388.3 325.26 L389.3 324.81 L390.3 324.26 L391.3 323.64 L392.3 322.99 L393.3 322.36 L394.3 321.78 L395.3 321.29 L396.3 320.92 L397.3 320.69 L398.3 320.62 L399.3 320.73 L400.3 321.02 L401.3 321.47 L402.3 322.05 L403.3 322.71 L404.3 323.39 L405.3 324.05 L406.3 324.63 L407.3 325.09 L408.3 325.39 L409.3 325.51 L410.3 325.46 L411.3 325.23 L412.3 324.86 L413.3 324.37 L414.3 323.80 L415.3 323.18 L416.3 322.56 L417.3 321.99 L418.3 321.50 L419.3 321.12 L420.3 320.89 L421.3 320.82"/>
<path d="M268.3 327.34 L269.3 326.74 L270.3 326.17 L271.3 325.69 L272.3 325.30 L273.3 325.05 L274.3 324.95 L275.3 325.00 L276.3 325.21 L277.3 325.57 L278.3 326.05 L279.3 326.65 L280.3 327.31 L281.3 328.00 L282.3 328.68 L283.3 329.32 L284.3 329.87 L285.3 330.29 L286.3 330.56 L287.3 330.66 L288.3 330.58 L289.3 330.32 L290.3 329.89 L291.3 329.31 L292.3 328.62 L293.3 327.85 L294.3 327.06 L295.3 326.28 L296.3 325.57 L297.3 324.97 L298.3 324.52 L299.3 324.25 L300.3 324.17 L301.3 324.33 L302.3 324.69 L303.3 325.26 L304.3 325.99 L305.3 326.84 L306.3 327.76 L307.3 328.67 L308.3 329.54 L309.3 330.29 L310.3 330.87 L311.3 331.25 L312.3 331.39 L313.3 331.31 L314.3 331.02 L315.3 330.55 L316.3 329.90 L317.3 329.12 L318.3 328.25 L319.3 327.34 L320.3 326.44 L321.3 325.59 L322.3 324.85 L323.3 324.26 L324.3 323.85 L325.3 323.64 L326.3 323.66 L327.3 323.94 L328.3 324.45 L329.3 325.18 L330.3 326.06 L331.3 327.05 L332.3 328.08 L333.3 329.08 L334.3 329.98 L335.3 330.72 L336.3 331.27 L337.3 331.58 L338.3 331.62 L339.3 331.42 L340.3 330.97 L341.3 330.32 L342.3 329.50 L343.3 328.56 L344.3 327.57 L345.3 326.58 L346.3 325.66 L347.3 324.87 L348.3 324.26 L349.3 323.86 L350.3 323.70 L351.3 323.80 L352.3 324.16 L353.3 324.77 L354.3 325.57 L355.3 326.51 L356.3 327.51 L357.3 328.52 L358.3 329.46 L359.3 330.26 L360.3 330.86 L361.3 331.23 L362.3 331.35 L363.3 331.21 L364.3 330.84 L365.3 330.28 L366.3 329.55 L367.3 328.70 L368.3 327.80 L369.3 326.89 L370.3 326.05 L371.3 325.31 L372.3 324.73 L373.3 324.34 L374.3 324.16 L375.3 324.21 L376.3 324.53 L377.3 325.08 L378.3 325.82 L379.3 326.69 L380.3 327.62 L381.3 328.53 L382.3 329.36 L383.3 330.05 L384.3 330.53 L385.3 330.78 L386.3 330.79 L387.3 330.58 L388.3 330.19 L389.3 329.65 L390.3 328.98 L391.3 328.23 L392.3 327.46 L393.3 326.71 L394.3 326.03 L395.3 325.46 L396.3 325.04 L397.3 324.78 L398.3 324.71 L399.3 324.85 L400.3 325.20 L401.3 325.73 L402.3 326.40 L403.3 327.15 L404.3 327.93 L405.3 328.67 L406.3 329.32 L407.3 329.82 L408.3 330.15 L409.3 330.27 L410.3 330.20 L411.3 329.94 L412.3 329.53 L413.3 328.99 L414.3 328.36 L415.3 327.68 L416.3 327.02 L417.3 326.40 L418.3 325.88 L419.3 325.49 L420.3 325.25 L421.3 325.18"/>
<path d="M268.3 331.79 L269.3 331.14 L270.3 330.53 L271.3 329.99 L272.3 329.56 L273.3 329.28 L274.3 329.15 L275.3 329.19 L276.3 329.41 L277.3 329.80 L278.3 330.34 L279.3 331.00 L280.3 331.74 L281.3 332.52 L282.3 333.30 L283.3 334.03 L284.3 334.66 L285.3 335.16 L286.3 335.49 L287.3 335.62 L288.3 335.54 L289.3 335.25 L290.3 334.75 L291.3 334.08 L292.3 333.27 L293.3 332.37 L294.3 331.42 L295.3 330.50 L296.3 329.64 L297.3 328.91 L298.3 328.36 L299.3 328.03 L300.3 327.93 L301.3 328.10 L302.3 328.54 L303.3 329.22 L304.3 330.11 L305.3 331.14 L306.3 332.26 L307.3 333.38 L308.3 334.45 L309.3 335.37 L310.3 336.10 L311.3 336.58 L312.3 336.76 L313.3 336.67 L314.3 336.32 L315.3 335.73 L316.3 334.93 L317.3 333.96 L318.3 332.88 L319.3 331.74 L320.3 330.61 L321.3 329.55 L322.3 328.62 L323.3 327.87 L324.3 327.35 L325.3 327.09 L326.3 327.11 L327.3 327.46 L328.3 328.11 L329.3 329.02 L330.3 330.13 L331.3 331.38 L332.3 332.67 L333.3 333.92 L334.3 335.06 L335.3 336.00 L336.3 336.68 L337.3 337.07 L338.3 337.13 L339.3 336.87 L340.3 336.31 L341.3 335.49 L342.3 334.45 L343.3 333.27 L344.3 332.02 L345.3 330.79 L346.3 329.64 L347.3 328.65 L348.3 327.88 L349.3 327.39 L350.3 327.19 L351.3 327.31 L352.3 327.77 L353.3 328.53 L354.3 329.53 L355.3 330.70 L356.3 331.96 L357.3 333.21 L358.3 334.37 L359.3 335.36 L360.3 336.10 L361.3 336.56 L362.3 336.69 L363.3 336.51 L364.3 336.06 L365.3 335.36 L366.3 334.46 L367.3 333.42 L368.3 332.31 L369.3 331.21 L370.3 330.17 L371.3 329.28 L372.3 328.58 L373.3 328.11 L374.3 327.91 L375.3 327.98 L376.3 328.37 L377.3 329.03 L378.3 329.93 L379.3 330.97 L380.3 332.09 L381.3 333.18 L382.3 334.16 L383.3 334.97 L384.3 335.54 L385.3 335.82 L386.3 335.82 L387.3 335.57 L388.3 335.10 L389.3 334.46 L390.3 333.67 L391.3 332.80 L392.3 331.91 L393.3 331.04 L394.3 330.26 L395.3 329.61 L396.3 329.13 L397.3 328.85 L398.3 328.78 L399.3 328.95 L400.3 329.35 L401.3 329.96 L402.3 330.72 L403.3 331.56 L404.3 332.43 L405.3 333.26 L406.3 333.97 L407.3 334.53 L408.3 334.88 L409.3 335.01 L410.3 334.92 L411.3 334.63 L412.3 334.17 L413.3 333.57 L414.3 332.89 L415.3 332.16 L416.3 331.44 L417.3 330.79 L418.3 330.23 L419.3 329.82 L420.3 329.58 L421.3 329.51"/>
<path d="M268.3 336.21 L269.3 335.51 L270.3 334.85 L271.3 334.27 L272.3 333.79 L273.3 333.47 L274.3 333.32 L275.3 333.36 L276.3 333.59 L277.3 334.01 L278.3 334.60 L279.3 335.32 L280.3 336.14 L281.3 337.01 L282.3 337.89 L283.3 338.72 L284.3 339.44 L285.3 340.01 L286.3 340.39 L287.3 340.55 L288.3 340.47 L289.3 340.14 L290.3 339.59 L291.3 338.82 L292.3 337.90 L293.3 336.86 L294.3 335.76 L295.3 334.68 L296.3 333.69 L297.3 332.84 L298.3 332.18 L299.3 331.78 L300.3 331.66 L301.3 331.85 L302.3 332.36 L303.3 333.16 L304.3 334.19 L305.3 335.41 L306.3 336.73 L307.3 338.07 L308.3 339.33 L309.3 340.44 L310.3 341.31 L311.3 341.88 L312.3 342.11 L313.3 342.00 L314.3 341.59 L315.3 340.89 L316.3 339.94 L317.3 338.78 L318.3 337.48 L319.3 336.12 L320.3 334.76 L321.3 333.48 L322.3 332.36 L323.3 331.46 L324.3 330.83 L325.3 330.52 L326.3 330.54 L327.3 330.95 L328.3 331.73 L329.3 332.83 L330.3 334.17 L331.3 335.67 L332.3 337.23 L333.3 338.75 L334.3 340.11 L335.3 341.25 L336.3 342.07 L337.3 342.54 L338.3 342.61 L339.3 342.30 L340.3 341.62 L341.3 340.63 L342.3 339.38 L343.3 337.96 L344.3 336.45 L345.3 334.96 L346.3 333.58 L347.3 332.40 L348.3 331.48 L349.3 330.89 L350.3 330.65 L351.3 330.80 L352.3 331.36 L353.3 332.27 L354.3 333.47 L355.3 334.87 L356.3 336.38 L357.3 337.88 L358.3 339.26 L359.3 340.43 L360.3 341.32 L361.3 341.85 L362.3 342.01 L363.3 341.79 L364.3 341.25 L365.3 340.41 L366.3 339.34 L367.3 338.11 L368.3 336.79 L369.3 335.49 L370.3 334.27 L371.3 333.22 L372.3 332.40 L373.3 331.86 L374.3 331.62 L375.3 331.72 L376.3 332.18 L377.3 332.96 L378.3 334.01 L379.3 335.23 L380.3 336.53 L381.3 337.80 L382.3 338.94 L383.3 339.87 L384.3 340.51 L385.3 340.84 L386.3 340.83 L387.3 340.53 L388.3 339.99 L389.3 339.24 L390.3 338.34 L391.3 337.35 L392.3 336.33 L393.3 335.35 L394.3 334.46 L395.3 333.74 L396.3 333.20 L397.3 332.90 L398.3 332.83 L399.3 333.02 L400.3 333.48 L401.3 334.16 L402.3 335.01 L403.3 335.95 L404.3 336.91 L405.3 337.82 L406.3 338.60 L407.3 339.20 L408.3 339.58 L409.3 339.71 L410.3 339.61 L411.3 339.28 L412.3 338.78 L413.3 338.13 L414.3 337.39 L415.3 336.61 L416.3 335.84 L417.3 335.14 L418.3 334.56 L419.3 334.13 L420.3 333.88 L421.3 333.82"/>
<path d="M268.3 340.61 L269.3 339.86 L270.3 339.15 L271.3 338.51 L272.3 338.00 L273.3 337.64 L274.3 337.47 L275.3 337.50 L276.3 337.75 L277.3 338.19 L278.3 338.83 L279.3 339.61 L280.3 340.52 L281.3 341.48 L282.3 342.45 L283.3 343.37 L284.3 344.18 L285.3 344.83 L286.3 345.26 L287.3 345.45 L288.3 345.37 L289.3 345.01 L290.3 344.39 L291.3 343.54 L292.3 342.49 L293.3 341.32 L294.3 340.08 L295.3 338.85 L296.3 337.71 L297.3 336.73 L298.3 335.98 L299.3 335.51 L300.3 335.36 L301.3 335.58 L302.3 336.15 L303.3 337.06 L304.3 338.25 L305.3 339.66 L306.3 341.18 L307.3 342.72 L308.3 344.19 L309.3 345.47 L310.3 346.48 L311.3 347.15 L312.3 347.42 L313.3 347.31 L314.3 346.83 L315.3 346.02 L316.3 344.91 L317.3 343.57 L318.3 342.06 L319.3 340.47 L320.3 338.88 L321.3 337.39 L322.3 336.07 L323.3 335.02 L324.3 334.28 L325.3 333.91 L326.3 333.94 L327.3 334.42 L328.3 335.33 L329.3 336.62 L330.3 338.19 L331.3 339.94 L332.3 341.77 L333.3 343.54 L334.3 345.14 L335.3 346.47 L336.3 347.44 L337.3 347.98 L338.3 348.06 L339.3 347.70 L340.3 346.90 L341.3 345.74 L342.3 344.28 L343.3 342.62 L344.3 340.86 L345.3 339.12 L346.3 337.50 L347.3 336.12 L348.3 335.05 L349.3 334.36 L350.3 334.09 L351.3 334.27 L352.3 334.92 L353.3 335.98 L354.3 337.38 L355.3 339.02 L356.3 340.77 L357.3 342.51 L358.3 344.12 L359.3 345.48 L360.3 346.50 L361.3 347.12 L362.3 347.30 L363.3 347.04 L364.3 346.41 L365.3 345.43 L366.3 344.19 L367.3 342.77 L368.3 341.25 L369.3 339.75 L370.3 338.35 L371.3 337.14 L372.3 336.20 L373.3 335.58 L374.3 335.32 L375.3 335.43 L376.3 335.96 L377.3 336.87 L378.3 338.07 L379.3 339.47 L380.3 340.95 L381.3 342.39 L382.3 343.68 L383.3 344.73 L384.3 345.46 L385.3 345.83 L386.3 345.80 L387.3 345.46 L388.3 344.85 L389.3 344.00 L390.3 342.98 L391.3 341.86 L392.3 340.72 L393.3 339.62 L394.3 338.64 L395.3 337.83 L396.3 337.25 L397.3 336.91 L398.3 336.84 L399.3 337.06 L400.3 337.58 L401.3 338.33 L402.3 339.27 L403.3 340.31 L404.3 341.37 L405.3 342.36 L406.3 343.21 L407.3 343.86 L408.3 344.26 L409.3 344.39 L410.3 344.27 L411.3 343.91 L412.3 343.36 L413.3 342.66 L414.3 341.87 L415.3 341.03 L416.3 340.21 L417.3 339.48 L418.3 338.86 L419.3 338.41 L420.3 338.15 L421.3 338.10"/>
<path d="M268.3 344.98 L269.3 344.19 L270.3 343.42 L271.3 342.74 L272.3 342.18 L273.3 341.79 L274.3 341.59 L275.3 341.62 L276.3 341.87 L277.3 342.35 L278.3 343.03 L279.3 343.88 L280.3 344.87 L281.3 345.92 L282.3 346.99 L283.3 348.01 L284.3 348.90 L285.3 349.62 L286.3 350.11 L287.3 350.32 L288.3 350.24 L289.3 349.85 L290.3 349.17 L291.3 348.22 L292.3 347.06 L293.3 345.75 L294.3 344.36 L295.3 342.98 L296.3 341.70 L297.3 340.60 L298.3 339.75 L299.3 339.21 L300.3 339.04 L301.3 339.28 L302.3 339.92 L303.3 340.94 L304.3 342.29 L305.3 343.87 L306.3 345.60 L307.3 347.35 L308.3 349.02 L309.3 350.48 L310.3 351.64 L311.3 352.40 L312.3 352.71 L313.3 352.58 L314.3 352.05 L315.3 351.13 L316.3 349.87 L317.3 348.33 L318.3 346.61 L319.3 344.79 L320.3 342.97 L321.3 341.26 L322.3 339.76 L323.3 338.55 L324.3 337.71 L325.3 337.28 L326.3 337.31 L327.3 337.86 L328.3 338.91 L329.3 340.38 L330.3 342.18 L331.3 344.19 L332.3 346.28 L333.3 348.31 L334.3 350.14 L335.3 351.67 L336.3 352.77 L337.3 353.39 L338.3 353.49 L339.3 353.07 L340.3 352.16 L341.3 350.82 L342.3 349.15 L343.3 347.25 L344.3 345.24 L345.3 343.24 L346.3 341.40 L347.3 339.81 L348.3 338.59 L349.3 337.80 L350.3 337.50 L351.3 337.70 L352.3 338.45 L353.3 339.66 L354.3 341.27 L355.3 343.14 L356.3 345.14 L357.3 347.12 L358.3 348.95 L359.3 350.50 L360.3 351.67 L361.3 352.37 L362.3 352.56 L363.3 352.27 L364.3 351.54 L365.3 350.43 L366.3 349.02 L367.3 347.40 L368.3 345.68 L369.3 343.98 L370.3 342.39 L371.3 341.03 L372.3 339.97 L373.3 339.28 L374.3 338.98 L375.3 339.11 L376.3 339.72 L377.3 340.74 L378.3 342.10 L379.3 343.67 L380.3 345.34 L381.3 346.95 L382.3 348.40 L383.3 349.58 L384.3 350.39 L385.3 350.79 L386.3 350.76 L387.3 350.37 L388.3 349.68 L389.3 348.73 L390.3 347.60 L391.3 346.35 L392.3 345.08 L393.3 343.87 L394.3 342.79 L395.3 341.90 L396.3 341.26 L397.3 340.90 L398.3 340.83 L399.3 341.08 L400.3 341.65 L401.3 342.48 L402.3 343.51 L403.3 344.64 L404.3 345.79 L405.3 346.86 L406.3 347.78 L407.3 348.48 L408.3 348.91 L409.3 349.05 L410.3 348.91 L411.3 348.52 L412.3 347.92 L413.3 347.17 L414.3 346.32 L415.3 345.43 L416.3 344.56 L417.3 343.78 L418.3 343.14 L419.3 342.67 L420.3 342.40 L421.3 342.35"/>
<path d="M268.3 349.32 L269.3 348.48 L270.3 347.67 L271.3 346.93 L272.3 346.33 L273.3 345.90 L274.3 345.69 L275.3 345.71 L276.3 345.97 L277.3 346.48 L278.3 347.21 L279.3 348.13 L280.3 349.19 L281.3 350.34 L282.3 351.50 L283.3 352.61 L284.3 353.59 L285.3 354.38 L286.3 354.93 L287.3 355.17 L288.3 355.09 L289.3 354.67 L290.3 353.92 L291.3 352.89 L292.3 351.61 L293.3 350.16 L294.3 348.62 L295.3 347.09 L296.3 345.67 L297.3 344.44 L298.3 343.49 L299.3 342.89 L300.3 342.69 L301.3 342.95 L302.3 343.66 L303.3 344.80 L304.3 346.30 L305.3 348.07 L306.3 349.99 L307.3 351.96 L308.3 353.82 L309.3 355.46 L310.3 356.76 L311.3 357.62 L312.3 357.98 L313.3 357.84 L314.3 357.24 L315.3 356.21 L316.3 354.79 L317.3 353.07 L318.3 351.13 L319.3 349.08 L320.3 347.04 L321.3 345.11 L322.3 343.42 L323.3 342.06 L324.3 341.11 L325.3 340.63 L326.3 340.66 L327.3 341.28 L328.3 342.45 L329.3 344.11 L330.3 346.14 L331.3 348.40 L332.3 350.76 L333.3 353.05 L334.3 355.12 L335.3 356.84 L336.3 358.08 L337.3 358.78 L338.3 358.89 L339.3 358.41 L340.3 357.39 L341.3 355.88 L342.3 354.00 L343.3 351.85 L344.3 349.59 L345.3 347.34 L346.3 345.26 L347.3 343.48 L348.3 342.11 L349.3 341.22 L350.3 340.88 L351.3 341.11 L352.3 341.95 L353.3 343.32 L354.3 345.13 L355.3 347.23 L356.3 349.47 L357.3 351.70 L358.3 353.76 L359.3 355.50 L360.3 356.80 L361.3 357.58 L362.3 357.80 L363.3 357.47 L364.3 356.65 L365.3 355.41 L366.3 353.82 L367.3 352.01 L368.3 350.09 L369.3 348.18 L370.3 346.41 L371.3 344.89 L372.3 343.71 L373.3 342.94 L374.3 342.62 L375.3 342.77 L376.3 343.45 L377.3 344.59 L378.3 346.11 L379.3 347.86 L380.3 349.70 L381.3 351.49 L382.3 353.10 L383.3 354.39 L384.3 355.29 L385.3 355.72 L386.3 355.68 L387.3 355.25 L388.3 354.48 L389.3 353.43 L390.3 352.18 L391.3 350.82 L392.3 349.42 L393.3 348.09 L394.3 346.91 L395.3 345.95 L396.3 345.25 L397.3 344.86 L398.3 344.79 L399.3 345.07 L400.3 345.69 L401.3 346.60 L402.3 347.72 L403.3 348.95 L404.3 350.19 L405.3 351.35 L406.3 352.33 L407.3 353.08 L408.3 353.53 L409.3 353.68 L410.3 353.52 L411.3 353.10 L412.3 352.46 L413.3 351.65 L414.3 350.74 L415.3 349.79 L416.3 348.88 L417.3 348.06 L418.3 347.38 L419.3 346.90 L420.3 346.63 L421.3 346.58"/>
<path d="M268.3 353.64 L269.3 352.75 L270.3 351.89 L271.3 351.10 L272.3 350.46 L273.3 349.99 L274.3 349.76 L275.3 349.77 L276.3 350.04 L277.3 350.58 L278.3 351.36 L279.3 352.34 L280.3 353.49 L281.3 354.72 L282.3 355.98 L283.3 357.19 L284.3 358.26 L285.3 359.12 L286.3 359.72 L287.3 359.99 L288.3 359.91 L289.3 359.46 L290.3 358.65 L291.3 357.52 L292.3 356.12 L293.3 354.54 L294.3 352.85 L295.3 351.17 L296.3 349.61 L297.3 348.25 L298.3 347.20 L299.3 346.54 L300.3 346.32 L301.3 346.59 L302.3 347.37 L303.3 348.62 L304.3 350.28 L305.3 352.23 L306.3 354.36 L307.3 356.53 L308.3 358.60 L309.3 360.42 L310.3 361.86 L311.3 362.82 L312.3 363.22 L313.3 363.06 L314.3 362.40 L315.3 361.26 L316.3 359.69 L317.3 357.78 L318.3 355.62 L319.3 353.35 L320.3 351.08 L321.3 348.94 L322.3 347.06 L323.3 345.54 L324.3 344.48 L325.3 343.94 L326.3 343.98 L327.3 344.67 L328.3 345.97 L329.3 347.81 L330.3 350.07 L331.3 352.60 L332.3 355.22 L333.3 357.77 L334.3 360.07 L335.3 361.98 L336.3 363.37 L337.3 364.14 L338.3 364.26 L339.3 363.73 L340.3 362.59 L341.3 360.92 L342.3 358.82 L343.3 356.43 L344.3 353.91 L345.3 351.41 L346.3 349.10 L347.3 347.12 L348.3 345.60 L349.3 344.61 L350.3 344.23 L351.3 344.50 L352.3 345.43 L353.3 346.95 L354.3 348.96 L355.3 351.29 L356.3 353.79 L357.3 356.26 L358.3 358.54 L359.3 360.47 L360.3 361.91 L361.3 362.77 L362.3 363.01 L363.3 362.64 L364.3 361.73 L365.3 360.35 L366.3 358.60 L367.3 356.59 L368.3 354.46 L369.3 352.36 L370.3 350.41 L371.3 348.73 L372.3 347.43 L373.3 346.58 L374.3 346.23 L375.3 346.40 L376.3 347.15 L377.3 348.42 L378.3 350.08 L379.3 352.01 L380.3 354.04 L381.3 356.01 L382.3 357.76 L383.3 359.18 L384.3 360.16 L385.3 360.63 L386.3 360.58 L387.3 360.10 L388.3 359.26 L389.3 358.11 L390.3 356.74 L391.3 355.25 L392.3 353.74 L393.3 352.29 L394.3 351.01 L395.3 349.96 L396.3 349.21 L397.3 348.80 L398.3 348.73 L399.3 349.03 L400.3 349.71 L401.3 350.70 L402.3 351.91 L403.3 353.23 L404.3 354.56 L405.3 355.80 L406.3 356.86 L407.3 357.65 L408.3 358.13 L409.3 358.28 L410.3 358.10 L411.3 357.65 L412.3 356.96 L413.3 356.10 L414.3 355.14 L415.3 354.14 L416.3 353.17 L417.3 352.31 L418.3 351.61 L419.3 351.10 L420.3 350.82 L421.3 350.78"/>
<path d="M268.3 357.93 L269.3 356.99 L270.3 356.08 L271.3 355.25 L272.3 354.56 L273.3 354.06 L274.3 353.80 L275.3 353.80 L276.3 354.09 L277.3 354.65 L278.3 355.48 L279.3 356.53 L280.3 357.76 L281.3 359.09 L282.3 360.44 L283.3 361.74 L284.3 362.90 L285.3 363.84 L286.3 364.48 L287.3 364.79 L288.3 364.71 L289.3 364.22 L290.3 363.35 L291.3 362.13 L292.3 360.61 L293.3 358.89 L294.3 357.06 L295.3 355.23 L296.3 353.52 L297.3 352.04 L298.3 350.89 L299.3 350.16 L300.3 349.91 L301.3 350.21 L302.3 351.06 L303.3 352.42 L304.3 354.23 L305.3 356.37 L306.3 358.70 L307.3 361.08 L308.3 363.35 L309.3 365.35 L310.3 366.93 L311.3 367.99 L312.3 368.43 L313.3 368.26 L314.3 367.54 L315.3 366.28 L316.3 364.56 L317.3 362.46 L318.3 360.09 L319.3 357.59 L320.3 355.09 L321.3 352.74 L322.3 350.67 L323.3 349.00 L324.3 347.83 L325.3 347.23 L326.3 347.27 L327.3 348.03 L328.3 349.47 L329.3 351.49 L330.3 353.98 L331.3 356.76 L332.3 359.65 L333.3 362.45 L334.3 364.99 L335.3 367.09 L336.3 368.62 L337.3 369.48 L338.3 369.61 L339.3 369.02 L340.3 367.77 L341.3 365.92 L342.3 363.61 L343.3 360.98 L344.3 358.21 L345.3 355.46 L346.3 352.92 L347.3 350.74 L348.3 349.06 L349.3 347.98 L350.3 347.56 L351.3 347.85 L352.3 348.88 L353.3 350.56 L354.3 352.76 L355.3 355.33 L356.3 358.07 L357.3 360.79 L358.3 363.29 L359.3 365.41 L360.3 366.99 L361.3 367.94 L362.3 368.19 L363.3 367.79 L364.3 366.79 L365.3 365.27 L366.3 363.35 L367.3 361.14 L368.3 358.81 L369.3 356.51 L370.3 354.37 L371.3 352.54 L372.3 351.12 L373.3 350.20 L374.3 349.82 L375.3 350.01 L376.3 350.83 L377.3 352.21 L378.3 354.03 L379.3 356.14 L380.3 358.35 L381.3 360.49 L382.3 362.40 L383.3 363.94 L384.3 365.00 L385.3 365.51 L386.3 365.45 L387.3 364.93 L388.3 364.01 L389.3 362.76 L390.3 361.28 L391.3 359.66 L392.3 358.02 L393.3 356.46 L394.3 355.08 L395.3 353.95 L396.3 353.15 L397.3 352.71 L398.3 352.64 L399.3 352.97 L400.3 353.70 L401.3 354.77 L402.3 356.07 L403.3 357.48 L404.3 358.91 L405.3 360.23 L406.3 361.35 L407.3 362.19 L408.3 362.70 L409.3 362.85 L410.3 362.65 L411.3 362.17 L412.3 361.44 L413.3 360.53 L414.3 359.51 L415.3 358.45 L416.3 357.44 L417.3 356.53 L418.3 355.80 L419.3 355.28 L420.3 354.99 L421.3 354.95"/>
<path d="M268.3 362.19 L269.3 361.21 L270.3 360.24 L271.3 359.36 L272.3 358.63 L273.3 358.10 L274.3 357.81 L275.3 357.81 L276.3 358.11 L277.3 358.70 L278.3 359.58 L279.3 360.70 L280.3 362.00 L281.3 363.42 L282.3 364.87 L283.3 366.26 L284.3 367.51 L285.3 368.52 L286.3 369.22 L287.3 369.56 L288.3 369.47 L289.3 368.96 L290.3 368.02 L291.3 366.71 L292.3 365.08 L293.3 363.22 L294.3 361.24 L295.3 359.26 L296.3 357.40 L297.3 355.80 L298.3 354.55 L299.3 353.76 L300.3 353.48 L301.3 353.80 L302.3 354.72 L303.3 356.20 L304.3 358.16 L305.3 360.48 L306.3 363.02 L307.3 365.61 L308.3 368.08 L309.3 370.25 L310.3 371.98 L311.3 373.13 L312.3 373.61 L313.3 373.43 L314.3 372.64 L315.3 371.28 L316.3 369.41 L317.3 367.12 L318.3 364.53 L319.3 361.80 L320.3 359.08 L321.3 356.51 L322.3 354.25 L323.3 352.42 L324.3 351.15 L325.3 350.50 L326.3 350.54 L327.3 351.36 L328.3 352.93 L329.3 355.15 L330.3 357.86 L331.3 360.90 L332.3 364.05 L333.3 367.12 L334.3 369.89 L335.3 372.18 L336.3 373.85 L337.3 374.79 L338.3 374.93 L339.3 374.29 L340.3 372.92 L341.3 370.90 L342.3 368.38 L343.3 365.51 L344.3 362.48 L345.3 359.48 L346.3 356.70 L347.3 354.33 L348.3 352.49 L349.3 351.32 L350.3 350.86 L351.3 351.18 L352.3 352.30 L353.3 354.14 L354.3 356.54 L355.3 359.34 L356.3 362.33 L357.3 365.29 L358.3 368.02 L359.3 370.32 L360.3 372.04 L361.3 373.07 L362.3 373.35 L363.3 372.90 L364.3 371.81 L365.3 370.16 L366.3 368.07 L367.3 365.67 L368.3 363.14 L369.3 360.63 L370.3 358.31 L371.3 356.32 L372.3 354.79 L373.3 353.79 L374.3 353.38 L375.3 353.59 L376.3 354.48 L377.3 355.98 L378.3 357.96 L379.3 360.24 L380.3 362.63 L381.3 364.95 L382.3 367.02 L383.3 368.68 L384.3 369.82 L385.3 370.36 L386.3 370.30 L387.3 369.73 L388.3 368.73 L389.3 367.39 L390.3 365.79 L391.3 364.05 L392.3 362.28 L393.3 360.60 L394.3 359.12 L395.3 357.92 L396.3 357.06 L397.3 356.59 L398.3 356.52 L399.3 356.88 L400.3 357.67 L401.3 358.81 L402.3 360.20 L403.3 361.71 L404.3 363.23 L405.3 364.64 L406.3 365.82 L407.3 366.71 L408.3 367.24 L409.3 367.40 L410.3 367.18 L411.3 366.67 L412.3 365.89 L413.3 364.93 L414.3 363.85 L415.3 362.74 L416.3 361.68 L417.3 360.73 L418.3 359.97 L419.3 359.43 L420.3 359.13 L421.3 359.10"/>
<path d="M268.3 366.43 L269.3 365.40 L270.3 364.38 L271.3 363.45 L272.3 362.67 L273.3 362.11 L274.3 361.80 L275.3 361.79 L276.3 362.10 L277.3 362.72 L278.3 363.65 L279.3 364.83 L280.3 366.22 L281.3 367.73 L282.3 369.27 L283.3 370.76 L284.3 372.10 L285.3 373.18 L286.3 373.94 L287.3 374.30 L288.3 374.21 L289.3 373.67 L290.3 372.67 L291.3 371.26 L292.3 369.51 L293.3 367.52 L294.3 365.39 L295.3 363.26 L296.3 361.26 L297.3 359.53 L298.3 358.19 L299.3 357.32 L300.3 357.03 L301.3 357.36 L302.3 358.35 L303.3 359.95 L304.3 362.06 L305.3 364.56 L306.3 367.31 L307.3 370.10 L308.3 372.77 L309.3 375.13 L310.3 377.00 L311.3 378.24 L312.3 378.77 L313.3 378.58 L314.3 377.73 L315.3 376.25 L316.3 374.22 L317.3 371.74 L318.3 368.95 L319.3 365.99 L320.3 363.04 L321.3 360.25 L322.3 357.80 L323.3 355.82 L324.3 354.44 L325.3 353.73 L326.3 353.78 L327.3 354.67 L328.3 356.37 L329.3 358.77 L330.3 361.72 L331.3 365.01 L332.3 368.43 L333.3 371.75 L334.3 374.76 L335.3 377.24 L336.3 379.06 L337.3 380.07 L338.3 380.22 L339.3 379.53 L340.3 378.04 L341.3 375.86 L342.3 373.12 L343.3 370.01 L344.3 366.72 L345.3 363.47 L346.3 360.46 L347.3 357.89 L348.3 355.90 L349.3 354.63 L350.3 354.14 L351.3 354.49 L352.3 355.70 L353.3 357.69 L354.3 360.29 L355.3 363.33 L356.3 366.56 L357.3 369.77 L358.3 372.72 L359.3 375.21 L360.3 377.07 L361.3 378.18 L362.3 378.48 L363.3 378.00 L364.3 376.82 L365.3 375.03 L366.3 372.76 L367.3 370.17 L368.3 367.44 L369.3 364.73 L370.3 362.23 L371.3 360.08 L372.3 358.42 L373.3 357.35 L374.3 356.91 L375.3 357.14 L376.3 358.11 L377.3 359.73 L378.3 361.86 L379.3 364.31 L380.3 366.89 L381.3 369.38 L382.3 371.60 L383.3 373.39 L384.3 374.61 L385.3 375.19 L386.3 375.12 L387.3 374.50 L388.3 373.43 L389.3 371.98 L390.3 370.27 L391.3 368.40 L392.3 366.51 L393.3 364.72 L394.3 363.14 L395.3 361.85 L396.3 360.94 L397.3 360.44 L398.3 360.37 L399.3 360.76 L400.3 361.61 L401.3 362.83 L402.3 364.30 L403.3 365.91 L404.3 367.52 L405.3 369.01 L406.3 370.27 L407.3 371.20 L408.3 371.76 L409.3 371.92 L410.3 371.69 L411.3 371.14 L412.3 370.32 L413.3 369.30 L414.3 368.17 L415.3 367.00 L416.3 365.89 L417.3 364.90 L418.3 364.11 L419.3 363.55 L420.3 363.25 L421.3 363.22"/>
<path d="M268.3 370.64 L269.3 369.56 L270.3 368.49 L271.3 367.52 L272.3 366.69 L273.3 366.09 L274.3 365.76 L275.3 365.74 L276.3 366.06 L277.3 366.72 L278.3 367.69 L279.3 368.94 L280.3 370.41 L281.3 372.01 L282.3 373.65 L283.3 375.23 L284.3 376.65 L285.3 377.81 L286.3 378.62 L287.3 379.01 L288.3 378.93 L289.3 378.35 L290.3 377.29 L291.3 375.79 L292.3 373.92 L293.3 371.79 L294.3 369.52 L295.3 367.24 L296.3 365.10 L297.3 363.24 L298.3 361.79 L299.3 360.87 L300.3 360.54 L301.3 360.90 L302.3 361.96 L303.3 363.67 L304.3 365.93 L305.3 368.62 L306.3 371.57 L307.3 374.58 L308.3 377.44 L309.3 379.97 L310.3 381.99 L311.3 383.33 L312.3 383.90 L313.3 383.70 L314.3 382.78 L315.3 381.20 L316.3 379.01 L317.3 376.35 L318.3 373.34 L319.3 370.15 L320.3 366.97 L321.3 363.97 L322.3 361.33 L323.3 359.20 L324.3 357.71 L325.3 356.94 L326.3 356.99 L327.3 357.95 L328.3 359.78 L329.3 362.37 L330.3 365.54 L331.3 369.09 L332.3 372.78 L333.3 376.36 L334.3 379.60 L335.3 382.28 L336.3 384.23 L337.3 385.32 L338.3 385.49 L339.3 384.74 L340.3 383.14 L341.3 380.78 L342.3 377.83 L343.3 374.48 L344.3 370.94 L345.3 367.44 L346.3 364.20 L347.3 361.42 L348.3 359.28 L349.3 357.91 L350.3 357.39 L351.3 357.76 L352.3 359.07 L353.3 361.21 L354.3 364.02 L355.3 367.28 L356.3 370.77 L357.3 374.22 L358.3 377.39 L359.3 380.07 L360.3 382.07 L361.3 383.27 L362.3 383.58 L363.3 383.06 L364.3 381.79 L365.3 379.87 L366.3 377.43 L367.3 374.65 L368.3 371.71 L369.3 368.80 L370.3 366.11 L371.3 363.81 L372.3 362.04 L373.3 360.88 L374.3 360.41 L375.3 360.66 L376.3 361.70 L377.3 363.44 L378.3 365.73 L379.3 368.36 L380.3 371.12 L381.3 373.79 L382.3 376.16 L383.3 378.07 L384.3 379.37 L385.3 379.99 L386.3 379.91 L387.3 379.25 L388.3 378.10 L389.3 376.55 L390.3 374.72 L391.3 372.73 L392.3 370.72 L393.3 368.81 L394.3 367.13 L395.3 365.76 L396.3 364.80 L397.3 364.27 L398.3 364.20 L399.3 364.62 L400.3 365.52 L401.3 366.81 L402.3 368.38 L403.3 370.09 L404.3 371.79 L405.3 373.36 L406.3 374.68 L407.3 375.67 L408.3 376.25 L409.3 376.41 L410.3 376.16 L411.3 375.58 L412.3 374.72 L413.3 373.65 L414.3 372.46 L415.3 371.24 L416.3 370.07 L417.3 369.05 L418.3 368.22 L419.3 367.64 L420.3 367.34 L421.3 367.31"/>
<path d="M268.3 374.82 L269.3 373.69 L270.3 372.58 L271.3 371.55 L272.3 370.69 L273.3 370.05 L274.3 369.70 L275.3 369.67 L276.3 370.00 L277.3 370.69 L278.3 371.71 L279.3 373.03 L280.3 374.57 L281.3 376.26 L282.3 378.00 L283.3 379.68 L284.3 381.19 L285.3 382.42 L286.3 383.28 L287.3 383.70 L288.3 383.62 L289.3 383.01 L290.3 381.88 L291.3 380.29 L292.3 378.31 L293.3 376.04 L294.3 373.61 L295.3 371.18 L296.3 368.90 L297.3 366.92 L298.3 365.37 L299.3 364.38 L300.3 364.03 L301.3 364.41 L302.3 365.54 L303.3 367.36 L304.3 369.78 L305.3 372.65 L306.3 375.80 L307.3 379.02 L308.3 382.09 L309.3 384.80 L310.3 386.95 L311.3 388.39 L312.3 389.00 L313.3 388.79 L314.3 387.81 L315.3 386.12 L316.3 383.78 L317.3 380.92 L318.3 377.70 L319.3 374.29 L320.3 370.88 L321.3 367.66 L322.3 364.83 L323.3 362.55 L324.3 360.94 L325.3 360.13 L326.3 360.17 L327.3 361.21 L328.3 363.17 L329.3 365.94 L330.3 369.34 L331.3 373.15 L332.3 377.10 L333.3 380.94 L334.3 384.41 L335.3 387.29 L336.3 389.38 L337.3 390.55 L338.3 390.73 L339.3 389.93 L340.3 388.20 L341.3 385.68 L342.3 382.52 L343.3 378.92 L344.3 375.13 L345.3 371.38 L346.3 367.90 L347.3 364.93 L348.3 362.64 L349.3 361.17 L350.3 360.61 L351.3 361.01 L352.3 362.42 L353.3 364.71 L354.3 367.72 L355.3 371.21 L356.3 374.94 L357.3 378.64 L358.3 382.04 L359.3 384.91 L360.3 387.05 L361.3 388.32 L362.3 388.66 L363.3 388.10 L364.3 386.74 L365.3 384.68 L366.3 382.07 L367.3 379.10 L368.3 375.95 L369.3 372.84 L370.3 369.97 L371.3 367.52 L372.3 365.62 L373.3 364.39 L374.3 363.89 L375.3 364.16 L376.3 365.28 L377.3 367.13 L378.3 369.57 L379.3 372.38 L380.3 375.32 L381.3 378.17 L382.3 380.70 L383.3 382.73 L384.3 384.11 L385.3 384.76 L386.3 384.67 L387.3 383.97 L388.3 382.75 L389.3 381.10 L390.3 379.15 L391.3 377.04 L392.3 374.90 L393.3 372.87 L394.3 371.09 L395.3 369.65 L396.3 368.63 L397.3 368.07 L398.3 368.00 L399.3 368.45 L400.3 369.41 L401.3 370.78 L402.3 372.43 L403.3 374.23 L404.3 376.03 L405.3 377.68 L406.3 379.07 L407.3 380.10 L408.3 380.71 L409.3 380.88 L410.3 380.61 L411.3 380.00 L412.3 379.09 L413.3 377.96 L414.3 376.72 L415.3 375.45 L416.3 374.23 L417.3 373.17 L418.3 372.31 L419.3 371.71 L420.3 371.40 L421.3 371.38"/>
<path d="M268.3 378.99 L269.3 377.84 L270.3 376.70 L271.3 375.65 L272.3 374.77 L273.3 374.11 L274.3 373.75 L275.3 373.73 L276.3 374.06 L277.3 374.76 L278.3 375.80 L279.3 377.15 L280.3 378.73 L281.3 380.46 L282.3 382.24 L283.3 383.96 L284.3 385.51 L285.3 386.78 L286.3 387.66 L287.3 388.09 L288.3 388.01 L289.3 387.39 L290.3 386.24 L291.3 384.60 L292.3 382.56 L293.3 380.23 L294.3 377.74 L295.3 375.25 L296.3 372.90 L297.3 370.86 L298.3 369.27 L299.3 368.25 L300.3 367.89 L301.3 368.28 L302.3 369.43 L303.3 371.31 L304.3 373.80 L305.3 376.75 L306.3 379.99 L307.3 383.30 L308.3 386.46 L309.3 389.25 L310.3 391.47 L311.3 392.96 L312.3 393.58 L313.3 393.36 L314.3 392.36 L315.3 390.61 L316.3 388.21 L317.3 385.27 L318.3 381.95 L319.3 378.43 L320.3 374.92 L321.3 371.61 L322.3 368.69 L323.3 366.34 L324.3 364.69 L325.3 363.85 L326.3 363.89 L327.3 364.96 L328.3 366.98 L329.3 369.84 L330.3 373.34 L331.3 377.26 L332.3 381.33 L333.3 385.29 L334.3 388.87 L335.3 391.83 L336.3 393.98 L337.3 395.19 L338.3 395.37 L339.3 394.54 L340.3 392.77 L341.3 390.17 L342.3 386.91 L343.3 383.21 L344.3 379.30 L345.3 375.43 L346.3 371.86 L347.3 368.79 L348.3 366.44 L349.3 364.92 L350.3 364.34 L351.3 364.76 L352.3 366.21 L353.3 368.57 L354.3 371.67 L355.3 375.27 L356.3 379.11 L357.3 382.92 L358.3 386.42 L359.3 389.37 L360.3 391.57 L361.3 392.88 L362.3 393.23 L363.3 392.65 L364.3 391.25 L365.3 389.13 L366.3 386.45 L367.3 383.38 L368.3 380.15 L369.3 376.95 L370.3 373.99 L371.3 371.47 L372.3 369.52 L373.3 368.26 L374.3 367.74 L375.3 368.02 L376.3 369.17 L377.3 371.08 L378.3 373.59 L379.3 376.47 L380.3 379.50 L381.3 382.42 L382.3 385.02 L383.3 387.11 L384.3 388.53 L385.3 389.20 L386.3 389.10 L387.3 388.38 L388.3 387.12 L389.3 385.43 L390.3 383.43 L391.3 381.26 L392.3 379.06 L393.3 376.99 L394.3 375.16 L395.3 373.68 L396.3 372.63 L397.3 372.07 L398.3 372.00 L399.3 372.46 L400.3 373.44 L401.3 374.84 L402.3 376.54 L403.3 378.38 L404.3 380.22 L405.3 381.91 L406.3 383.33 L407.3 384.39 L408.3 385.01 L409.3 385.17 L410.3 384.90 L411.3 384.27 L412.3 383.34 L413.3 382.19 L414.3 380.92 L415.3 379.62 L416.3 378.39 L417.3 377.30 L418.3 376.43 L419.3 375.83 L420.3 375.51 L421.3 375.50"/>
<path d="M268.3 383.14 L269.3 381.99 L270.3 380.85 L271.3 379.80 L272.3 378.92 L273.3 378.26 L274.3 377.90 L275.3 377.88 L276.3 378.21 L277.3 378.91 L278.3 379.95 L279.3 381.30 L280.3 382.88 L281.3 384.61 L282.3 386.39 L283.3 388.11 L284.3 389.66 L285.3 390.93 L286.3 391.81 L287.3 392.24 L288.3 392.16 L289.3 391.54 L290.3 390.39 L291.3 388.75 L292.3 386.71 L293.3 384.38 L294.3 381.89 L295.3 379.40 L296.3 377.05 L297.3 375.01 L298.3 373.42 L299.3 372.40 L300.3 372.04 L301.3 372.43 L302.3 373.58 L303.3 375.46 L304.3 377.95 L305.3 380.90 L306.3 384.14 L307.3 387.45 L308.3 390.61 L309.3 393.40 L310.3 395.62 L311.3 397.11 L312.3 397.73 L313.3 397.51 L314.3 396.51 L315.3 394.76 L316.3 392.36 L317.3 389.42 L318.3 386.10 L319.3 382.58 L320.3 379.07 L321.3 375.76 L322.3 372.84 L323.3 370.49 L324.3 368.84 L325.3 368.00 L326.3 368.04 L327.3 369.11 L328.3 371.13 L329.3 373.99 L330.3 377.49 L331.3 381.41 L332.3 385.48 L333.3 389.44 L334.3 393.02 L335.3 395.98 L336.3 398.13 L337.3 399.34 L338.3 399.52 L339.3 398.69 L340.3 396.92 L341.3 394.32 L342.3 391.06 L343.3 387.36 L344.3 383.45 L345.3 379.58 L346.3 376.01 L347.3 372.94 L348.3 370.59 L349.3 369.07 L350.3 368.49 L351.3 368.91 L352.3 370.36 L353.3 372.72 L354.3 375.82 L355.3 379.42 L356.3 383.26 L357.3 387.07 L358.3 390.57 L359.3 393.52 L360.3 395.72 L361.3 397.03 L362.3 397.38 L363.3 396.80 L364.3 395.40 L365.3 393.28 L366.3 390.60 L367.3 387.53 L368.3 384.30 L369.3 381.10 L370.3 378.14 L371.3 375.62 L372.3 373.67 L373.3 372.41 L374.3 371.89 L375.3 372.17 L376.3 373.32 L377.3 375.23 L378.3 377.74 L379.3 380.62 L380.3 383.65 L381.3 386.57 L382.3 389.17 L383.3 391.26 L384.3 392.68 L385.3 393.35 L386.3 393.25 L387.3 392.53 L388.3 391.27 L389.3 389.58 L390.3 387.58 L391.3 385.41 L392.3 383.21 L393.3 381.14 L394.3 379.31 L395.3 377.83 L396.3 376.78 L397.3 376.22 L398.3 376.15 L399.3 376.61 L400.3 377.59 L401.3 378.99 L402.3 380.69 L403.3 382.53 L404.3 384.37 L405.3 386.06 L406.3 387.48 L407.3 388.54 L408.3 389.16 L409.3 389.32 L410.3 389.05 L411.3 388.42 L412.3 387.49 L413.3 386.34 L414.3 385.07 L415.3 383.77 L416.3 382.54 L417.3 381.45 L418.3 380.58 L419.3 379.98 L420.3 379.66 L421.3 379.65"/>
<path d="M268.3 387.27 L269.3 386.11 L270.3 384.98 L271.3 383.93 L272.3 383.04 L273.3 382.39 L274.3 382.03 L275.3 382.00 L276.3 382.33 L277.3 383.03 L278.3 384.08 L279.3 385.42 L280.3 387.00 L281.3 388.74 L282.3 390.52 L283.3 392.24 L284.3 393.78 L285.3 395.05 L286.3 395.94 L287.3 396.37 L288.3 396.28 L289.3 395.66 L290.3 394.51 L291.3 392.87 L292.3 390.84 L293.3 388.51 L294.3 386.02 L295.3 383.52 L296.3 381.17 L297.3 379.13 L298.3 377.54 L299.3 376.52 L300.3 376.16 L301.3 376.55 L302.3 377.71 L303.3 379.58 L304.3 382.07 L305.3 385.03 L306.3 388.27 L307.3 391.58 L308.3 394.74 L309.3 397.53 L310.3 399.75 L311.3 401.23 L312.3 401.86 L313.3 401.64 L314.3 400.63 L315.3 398.89 L316.3 396.48 L317.3 393.54 L318.3 390.22 L319.3 386.71 L320.3 383.19 L321.3 379.88 L322.3 376.96 L323.3 374.61 L324.3 372.96 L325.3 372.12 L326.3 372.17 L327.3 373.23 L328.3 375.25 L329.3 378.11 L330.3 381.61 L331.3 385.53 L332.3 389.60 L333.3 393.56 L334.3 397.14 L335.3 400.10 L336.3 402.26 L337.3 403.46 L338.3 403.65 L339.3 402.82 L340.3 401.04 L341.3 398.44 L342.3 395.19 L343.3 391.48 L344.3 387.57 L345.3 383.71 L346.3 380.13 L347.3 377.07 L348.3 374.71 L349.3 373.20 L350.3 372.62 L351.3 373.04 L352.3 374.48 L353.3 376.84 L354.3 379.94 L355.3 383.54 L356.3 387.38 L357.3 391.19 L358.3 394.69 L359.3 397.64 L360.3 399.84 L361.3 401.16 L362.3 401.51 L363.3 400.93 L364.3 399.52 L365.3 397.40 L366.3 394.72 L367.3 391.66 L368.3 388.42 L369.3 385.22 L370.3 382.27 L371.3 379.74 L372.3 377.79 L373.3 376.53 L374.3 376.02 L375.3 376.29 L376.3 377.44 L377.3 379.35 L378.3 381.86 L379.3 384.74 L380.3 387.77 L381.3 390.70 L382.3 393.30 L383.3 395.38 L384.3 396.80 L385.3 397.47 L386.3 397.38 L387.3 396.65 L388.3 395.39 L389.3 393.70 L390.3 391.70 L391.3 389.53 L392.3 387.34 L393.3 385.26 L394.3 383.43 L395.3 381.95 L396.3 380.91 L397.3 380.34 L398.3 380.27 L399.3 380.73 L400.3 381.71 L401.3 383.12 L402.3 384.81 L403.3 386.66 L404.3 388.50 L405.3 390.19 L406.3 391.61 L407.3 392.66 L408.3 393.28 L409.3 393.44 L410.3 393.18 L411.3 392.54 L412.3 391.61 L413.3 390.47 L414.3 389.20 L415.3 387.90 L416.3 386.66 L417.3 385.58 L418.3 384.71 L419.3 384.10 L420.3 383.79 L421.3 383.77"/>
<path d="M268.3 391.36 L269.3 390.21 L270.3 389.07 L271.3 388.02 L272.3 387.14 L273.3 386.48 L274.3 386.12 L275.3 386.10 L276.3 386.43 L277.3 387.13 L278.3 388.17 L279.3 389.52 L280.3 391.10 L281.3 392.83 L282.3 394.61 L283.3 396.33 L284.3 397.88 L285.3 399.15 L286.3 400.03 L287.3 400.46 L288.3 400.38 L289.3 399.76 L290.3 398.61 L291.3 396.97 L292.3 394.93 L293.3 392.60 L294.3 390.11 L295.3 387.62 L296.3 385.27 L297.3 383.23 L298.3 381.64 L299.3 380.62 L300.3 380.26 L301.3 380.65 L302.3 381.80 L303.3 383.68 L304.3 386.17 L305.3 389.12 L306.3 392.36 L307.3 395.67 L308.3 398.83 L309.3 401.62 L310.3 403.84 L311.3 405.33 L312.3 405.95 L313.3 405.73 L314.3 404.73 L315.3 402.98 L316.3 400.58 L317.3 397.64 L318.3 394.32 L319.3 390.80 L320.3 387.29 L321.3 383.98 L322.3 381.06 L323.3 378.71 L324.3 377.06 L325.3 376.22 L326.3 376.26 L327.3 377.33 L328.3 379.35 L329.3 382.21 L330.3 385.71 L331.3 389.63 L332.3 393.70 L333.3 397.66 L334.3 401.24 L335.3 404.20 L336.3 406.35 L337.3 407.56 L338.3 407.74 L339.3 406.91 L340.3 405.14 L341.3 402.54 L342.3 399.28 L343.3 395.58 L344.3 391.67 L345.3 387.80 L346.3 384.23 L347.3 381.16 L348.3 378.81 L349.3 377.29 L350.3 376.71 L351.3 377.13 L352.3 378.58 L353.3 380.94 L354.3 384.04 L355.3 387.64 L356.3 391.48 L357.3 395.29 L358.3 398.79 L359.3 401.74 L360.3 403.94 L361.3 405.25 L362.3 405.60 L363.3 405.02 L364.3 403.62 L365.3 401.50 L366.3 398.82 L367.3 395.75 L368.3 392.52 L369.3 389.32 L370.3 386.36 L371.3 383.84 L372.3 381.89 L373.3 380.63 L374.3 380.11 L375.3 380.39 L376.3 381.54 L377.3 383.45 L378.3 385.96 L379.3 388.84 L380.3 391.87 L381.3 394.79 L382.3 397.39 L383.3 399.48 L384.3 400.90 L385.3 401.57 L386.3 401.47 L387.3 400.75 L388.3 399.49 L389.3 397.80 L390.3 395.80 L391.3 393.63 L392.3 391.43 L393.3 389.36 L394.3 387.53 L395.3 386.05 L396.3 385.00 L397.3 384.44 L398.3 384.37 L399.3 384.83 L400.3 385.81 L401.3 387.21 L402.3 388.91 L403.3 390.75 L404.3 392.59 L405.3 394.28 L406.3 395.70 L407.3 396.76 L408.3 397.38 L409.3 397.54 L410.3 397.27 L411.3 396.64 L412.3 395.71 L413.3 394.56 L414.3 393.29 L415.3 391.99 L416.3 390.76 L417.3 389.67 L418.3 388.80 L419.3 388.20 L420.3 387.88 L421.3 387.87"/>
<path d="M268.3 395.43 L269.3 394.28 L270.3 393.14 L271.3 392.09 L272.3 391.21 L273.3 390.55 L274.3 390.19 L275.3 390.17 L276.3 390.50 L277.3 391.20 L278.3 392.24 L279.3 393.59 L280.3 395.17 L281.3 396.90 L282.3 398.68 L283.3 400.40 L284.3 401.95 L285.3 403.22 L286.3 404.10 L287.3 404.53 L288.3 404.45 L289.3 403.83 L290.3 402.68 L291.3 401.04 L292.3 399.00 L293.3 396.67 L294.3 394.18 L295.3 391.69 L296.3 389.34 L297.3 387.30 L298.3 385.71 L299.3 384.69 L300.3 384.33 L301.3 384.72 L302.3 385.87 L303.3 387.75 L304.3 390.24 L305.3 393.19 L306.3 396.43 L307.3 399.74 L308.3 402.90 L309.3 405.69 L310.3 407.91 L311.3 409.40 L312.3 410.02 L313.3 409.80 L314.3 408.80 L315.3 407.05 L316.3 404.65 L317.3 401.71 L318.3 398.39 L319.3 394.87 L320.3 391.36 L321.3 388.05 L322.3 385.13 L323.3 382.78 L324.3 381.13 L325.3 380.29 L326.3 380.33 L327.3 381.40 L328.3 383.42 L329.3 386.28 L330.3 389.78 L331.3 393.70 L332.3 397.77 L333.3 401.73 L334.3 405.31 L335.3 408.27 L336.3 410.42 L337.3 411.63 L338.3 411.81 L339.3 410.98 L340.3 409.21 L341.3 406.61 L342.3 403.35 L343.3 399.65 L344.3 395.74 L345.3 391.87 L346.3 388.30 L347.3 385.23 L348.3 382.88 L349.3 381.36 L350.3 380.78 L351.3 381.20 L352.3 382.65 L353.3 385.01 L354.3 388.11 L355.3 391.71 L356.3 395.55 L357.3 399.36 L358.3 402.86 L359.3 405.81 L360.3 408.01 L361.3 409.32 L362.3 409.67 L363.3 409.09 L364.3 407.69 L365.3 405.57 L366.3 402.89 L367.3 399.82 L368.3 396.59 L369.3 393.39 L370.3 390.43 L371.3 387.91 L372.3 385.96 L373.3 384.70 L374.3 384.18 L375.3 384.46 L376.3 385.61 L377.3 387.52 L378.3 390.03 L379.3 392.91 L380.3 395.94 L381.3 398.86 L382.3 401.46 L383.3 403.55 L384.3 404.97 L385.3 405.64 L386.3 405.54 L387.3 404.82 L388.3 403.56 L389.3 401.87 L390.3 399.87 L391.3 397.70 L392.3 395.50 L393.3 393.43 L394.3 391.60 L395.3 390.12 L396.3 389.07 L397.3 388.51 L398.3 388.44 L399.3 388.90 L400.3 389.88 L401.3 391.28 L402.3 392.98 L403.3 394.82 L404.3 396.66 L405.3 398.35 L406.3 399.77 L407.3 400.83 L408.3 401.45 L409.3 401.61 L410.3 401.34 L411.3 400.71 L412.3 399.78 L413.3 398.63 L414.3 397.36 L415.3 396.06 L416.3 394.83 L417.3 393.74 L418.3 392.87 L419.3 392.27 L420.3 391.95 L421.3 391.94"/>
<path d="M268.3 399.48 L269.3 398.32 L270.3 397.19 L271.3 396.14 L272.3 395.25 L273.3 394.60 L274.3 394.24 L275.3 394.21 L276.3 394.54 L277.3 395.24 L278.3 396.29 L279.3 397.63 L280.3 399.21 L281.3 400.95 L282.3 402.73 L283.3 404.45 L284.3 405.99 L285.3 407.26 L286.3 408.15 L287.3 408.58 L288.3 408.49 L289.3 407.87 L290.3 406.72 L291.3 405.08 L292.3 403.05 L293.3 400.72 L294.3 398.23 L295.3 395.73 L296.3 393.38 L297.3 391.34 L298.3 389.75 L299.3 388.73 L300.3 388.37 L301.3 388.76 L302.3 389.92 L303.3 391.79 L304.3 394.28 L305.3 397.24 L306.3 400.48 L307.3 403.79 L308.3 406.95 L309.3 409.74 L310.3 411.96 L311.3 413.44 L312.3 414.07 L313.3 413.85 L314.3 412.84 L315.3 411.10 L316.3 408.69 L317.3 405.75 L318.3 402.43 L319.3 398.92 L320.3 395.40 L321.3 392.09 L322.3 389.17 L323.3 386.82 L324.3 385.17 L325.3 384.33 L326.3 384.38 L327.3 385.44 L328.3 387.46 L329.3 390.32 L330.3 393.82 L331.3 397.74 L332.3 401.81 L333.3 405.77 L334.3 409.35 L335.3 412.31 L336.3 414.47 L337.3 415.67 L338.3 415.86 L339.3 415.03 L340.3 413.25 L341.3 410.65 L342.3 407.40 L343.3 403.69 L344.3 399.78 L345.3 395.92 L346.3 392.34 L347.3 389.28 L348.3 386.92 L349.3 385.41 L350.3 384.83 L351.3 385.25 L352.3 386.69 L353.3 389.05 L354.3 392.15 L355.3 395.75 L356.3 399.59 L357.3 403.40 L358.3 406.90 L359.3 409.85 L360.3 412.05 L361.3 413.37 L362.3 413.72 L363.3 413.14 L364.3 411.73 L365.3 409.61 L366.3 406.93 L367.3 403.87 L368.3 400.63 L369.3 397.43 L370.3 394.48 L371.3 391.95 L372.3 390.00 L373.3 388.74 L374.3 388.23 L375.3 388.50 L376.3 389.65 L377.3 391.56 L378.3 394.07 L379.3 396.95 L380.3 399.98 L381.3 402.91 L382.3 405.51 L383.3 407.59 L384.3 409.01 L385.3 409.68 L386.3 409.59 L387.3 408.86 L388.3 407.60 L389.3 405.91 L390.3 403.91 L391.3 401.74 L392.3 399.55 L393.3 397.47 L394.3 395.64 L395.3 394.16 L396.3 393.12 L397.3 392.55 L398.3 392.48 L399.3 392.94 L400.3 393.92 L401.3 395.33 L402.3 397.02 L403.3 398.87 L404.3 400.71 L405.3 402.40 L406.3 403.82 L407.3 404.87 L408.3 405.49 L409.3 405.65 L410.3 405.39 L411.3 404.75 L412.3 403.82 L413.3 402.68 L414.3 401.41 L415.3 400.11 L416.3 398.87 L417.3 397.79 L418.3 396.92 L419.3 396.31 L420.3 396.00 L421.3 395.98"/>
<path d="M268.3 403.49 L269.3 402.34 L270.3 401.20 L271.3 400.15 L272.3 399.27 L273.3 398.61 L274.3 398.25 L275.3 398.23 L276.3 398.56 L277.3 399.26 L278.3 400.30 L279.3 401.65 L280.3 403.23 L281.3 404.96 L282.3 406.74 L283.3 408.46 L284.3 410.01 L285.3 411.28 L286.3 412.16 L287.3 412.59 L288.3 412.51 L289.3 411.89 L290.3 410.74 L291.3 409.10 L292.3 407.06 L293.3 404.73 L294.3 402.24 L295.3 399.75 L296.3 397.40 L297.3 395.36 L298.3 393.77 L299.3 392.75 L300.3 392.39 L301.3 392.78 L302.3 393.93 L303.3 395.81 L304.3 398.30 L305.3 401.25 L306.3 404.49 L307.3 407.80 L308.3 410.96 L309.3 413.75 L310.3 415.97 L311.3 417.46 L312.3 418.08 L313.3 417.86 L314.3 416.86 L315.3 415.11 L316.3 412.71 L317.3 409.77 L318.3 406.45 L319.3 402.93 L320.3 399.42 L321.3 396.11 L322.3 393.19 L323.3 390.84 L324.3 389.19 L325.3 388.35 L326.3 388.39 L327.3 389.46 L328.3 391.48 L329.3 394.34 L330.3 397.84 L331.3 401.76 L332.3 405.83 L333.3 409.79 L334.3 413.37 L335.3 416.33 L336.3 418.48 L337.3 419.69 L338.3 419.87 L339.3 419.04 L340.3 417.27 L341.3 414.67 L342.3 411.41 L343.3 407.71 L344.3 403.80 L345.3 399.93 L346.3 396.36 L347.3 393.29 L348.3 390.94 L349.3 389.42 L350.3 388.84 L351.3 389.26 L352.3 390.71 L353.3 393.07 L354.3 396.17 L355.3 399.77 L356.3 403.61 L357.3 407.42 L358.3 410.92 L359.3 413.87 L360.3 416.07 L361.3 417.38 L362.3 417.73 L363.3 417.15 L364.3 415.75 L365.3 413.63 L366.3 410.95 L367.3 407.88 L368.3 404.65 L369.3 401.45 L370.3 398.49 L371.3 395.97 L372.3 394.02 L373.3 392.76 L374.3 392.24 L375.3 392.52 L376.3 393.67 L377.3 395.58 L378.3 398.09 L379.3 400.97 L380.3 404.00 L381.3 406.92 L382.3 409.52 L383.3 411.61 L384.3 413.03 L385.3 413.70 L386.3 413.60 L387.3 412.88 L388.3 411.62 L389.3 409.93 L390.3 407.93 L391.3 405.76 L392.3 403.56 L393.3 401.49 L394.3 399.66 L395.3 398.18 L396.3 397.13 L397.3 396.57 L398.3 396.50 L399.3 396.96 L400.3 397.94 L401.3 399.34 L402.3 401.04 L403.3 402.88 L404.3 404.72 L405.3 406.41 L406.3 407.83 L407.3 408.89 L408.3 409.51 L409.3 409.67 L410.3 409.40 L411.3 408.77 L412.3 407.84 L413.3 406.69 L414.3 405.42 L415.3 404.12 L416.3 402.89 L417.3 401.80 L418.3 400.93 L419.3 400.33 L420.3 400.01 L421.3 400.00"/>
<path d="M268.3 407.48 L269.3 406.33 L270.3 405.19 L271.3 404.14 L272.3 403.26 L273.3 402.60 L274.3 402.24 L275.3 402.22 L276.3 402.55 L277.3 403.25 L278.3 404.29 L279.3 405.64 L280.3 407.22 L281.3 408.95 L282.3 410.73 L283.3 412.45 L284.3 414.00 L285.3 415.27 L286.3 416.15 L287.3 416.58 L288.3 416.50 L289.3 415.88 L290.3 414.73 L291.3 413.09 L292.3 411.05 L293.3 408.72 L294.3 406.23 L295.3 403.74 L296.3 401.39 L297.3 399.35 L298.3 397.76 L299.3 396.74 L300.3 396.38 L301.3 396.77 L302.3 397.92 L303.3 399.80 L304.3 402.29 L305.3 405.24 L306.3 408.48 L307.3 411.79 L308.3 414.95 L309.3 417.74 L310.3 419.96 L311.3 421.45 L312.3 422.07 L313.3 421.85 L314.3 420.85 L315.3 419.10 L316.3 416.70 L317.3 413.76 L318.3 410.44 L319.3 406.92 L320.3 403.41 L321.3 400.10 L322.3 397.18 L323.3 394.83 L324.3 393.18 L325.3 392.34 L326.3 392.38 L327.3 393.45 L328.3 395.47 L329.3 398.33 L330.3 401.83 L331.3 405.75 L332.3 409.82 L333.3 413.78 L334.3 417.36 L335.3 420.32 L336.3 422.47 L337.3 423.68 L338.3 423.86 L339.3 423.03 L340.3 421.26 L341.3 418.66 L342.3 415.40 L343.3 411.70 L344.3 407.79 L345.3 403.92 L346.3 400.35 L347.3 397.28 L348.3 394.93 L349.3 393.41 L350.3 392.83 L351.3 393.25 L352.3 394.70 L353.3 397.06 L354.3 400.16 L355.3 403.76 L356.3 407.60 L357.3 411.41 L358.3 414.91 L359.3 417.86 L360.3 420.06 L361.3 421.37 L362.3 421.72 L363.3 421.14 L364.3 419.74 L365.3 417.62 L366.3 414.94 L367.3 411.87 L368.3 408.64 L369.3 405.44 L370.3 402.48 L371.3 399.96 L372.3 398.01 L373.3 396.75 L374.3 396.23 L375.3 396.51 L376.3 397.66 L377.3 399.57 L378.3 402.08 L379.3 404.96 L380.3 407.99 L381.3 410.91 L382.3 413.51 L383.3 415.60 L384.3 417.02 L385.3 417.69 L386.3 417.59 L387.3 416.87 L388.3 415.61 L389.3 413.92 L390.3 411.92 L391.3 409.75 L392.3 407.55 L393.3 405.48 L394.3 403.65 L395.3 402.17 L396.3 401.12 L397.3 400.56 L398.3 400.49 L399.3 400.95 L400.3 401.93 L401.3 403.33 L402.3 405.03 L403.3 406.87 L404.3 408.71 L405.3 410.40 L406.3 411.82 L407.3 412.88 L408.3 413.50 L409.3 413.66 L410.3 413.39 L411.3 412.76 L412.3 411.83 L413.3 410.68 L414.3 409.41 L415.3 408.11 L416.3 406.88 L417.3 405.79 L418.3 404.92 L419.3 404.32 L420.3 404.00 L421.3 403.99"/>
<path d="M268.3 411.45 L269.3 410.29 L270.3 409.16 L271.3 408.11 L272.3 407.22 L273.3 406.57 L274.3 406.21 L275.3 406.18 L276.3 406.51 L277.3 407.21 L278.3 408.26 L279.3 409.60 L280.3 411.18 L281.3 412.92 L282.3 414.70 L283.3 416.42 L284.3 417.96 L285.3 419.23 L286.3 420.12 L287.3 420.55 L288.3 420.46 L289.3 419.84 L290.3 418.69 L291.3 417.05 L292.3 415.02 L293.3 412.69 L294.3 410.20 L295.3 407.70 L296.3 405.35 L297.3 403.31 L298.3 401.72 L299.3 400.70 L300.3 400.34 L301.3 400.73 L302.3 401.89 L303.3 403.76 L304.3 406.25 L305.3 409.21 L306.3 412.45 L307.3 415.76 L308.3 418.92 L309.3 421.71 L310.3 423.93 L311.3 425.41 L312.3 426.04 L313.3 425.82 L314.3 424.81 L315.3 423.07 L316.3 420.66 L317.3 417.72 L318.3 414.40 L319.3 410.89 L320.3 407.37 L321.3 404.06 L322.3 401.14 L323.3 398.79 L324.3 397.14 L325.3 396.30 L326.3 396.35 L327.3 397.41 L328.3 399.43 L329.3 402.29 L330.3 405.79 L331.3 409.71 L332.3 413.78 L333.3 417.74 L334.3 421.32 L335.3 424.28 L336.3 426.44 L337.3 427.64 L338.3 427.83 L339.3 427.00 L340.3 425.22 L341.3 422.62 L342.3 419.37 L343.3 415.66 L344.3 411.75 L345.3 407.89 L346.3 404.31 L347.3 401.25 L348.3 398.89 L349.3 397.38 L350.3 396.80 L351.3 397.22 L352.3 398.66 L353.3 401.02 L354.3 404.12 L355.3 407.72 L356.3 411.56 L357.3 415.37 L358.3 418.87 L359.3 421.82 L360.3 424.02 L361.3 425.34 L362.3 425.69 L363.3 425.11 L364.3 423.70 L365.3 421.58 L366.3 418.90 L367.3 415.84 L368.3 412.60 L369.3 409.40 L370.3 406.45 L371.3 403.92 L372.3 401.97 L373.3 400.71 L374.3 400.20 L375.3 400.47 L376.3 401.62 L377.3 403.53 L378.3 406.04 L379.3 408.92 L380.3 411.95 L381.3 414.88 L382.3 417.48 L383.3 419.56 L384.3 420.98 L385.3 421.65 L386.3 421.56 L387.3 420.83 L388.3 419.57 L389.3 417.88 L390.3 415.88 L391.3 413.71 L392.3 411.52 L393.3 409.44 L394.3 407.61 L395.3 406.13 L396.3 405.09 L397.3 404.52 L398.3 404.45 L399.3 404.91 L400.3 405.89 L401.3 407.30 L402.3 408.99 L403.3 410.84 L404.3 412.68 L405.3 414.37 L406.3 415.79 L407.3 416.84 L408.3 417.46 L409.3 417.62 L410.3 417.36 L411.3 416.72 L412.3 415.79 L413.3 414.65 L414.3 413.38 L415.3 412.08 L416.3 410.84 L417.3 409.76 L418.3 408.89 L419.3 408.28 L420.3 407.97 L421.3 407.95"/>
<path d="M268.3 415.38 L269.3 414.23 L270.3 413.09 L271.3 412.04 L272.3 411.16 L273.3 410.50 L274.3 410.14 L275.3 410.12 L276.3 410.45 L277.3 411.15 L278.3 412.19 L279.3 413.54 L280.3 415.12 L281.3 416.85 L282.3 418.63 L283.3 420.35 L284.3 421.90 L285.3 423.17 L286.3 424.05 L287.3 424.48 L288.3 424.40 L289.3 423.78 L290.3 422.63 L291.3 420.99 L292.3 418.95 L293.3 416.62 L294.3 414.13 L295.3 411.64 L296.3 409.29 L297.3 407.25 L298.3 405.66 L299.3 404.64 L300.3 404.28 L301.3 404.67 L302.3 405.82 L303.3 407.70 L304.3 410.19 L305.3 413.14 L306.3 416.38 L307.3 419.69 L308.3 422.85 L309.3 425.64 L310.3 427.86 L311.3 429.35 L312.3 429.97 L313.3 429.75 L314.3 428.75 L315.3 427.00 L316.3 424.60 L317.3 421.66 L318.3 418.34 L319.3 414.82 L320.3 411.31 L321.3 408.00 L322.3 405.08 L323.3 402.73 L324.3 401.08 L325.3 400.24 L326.3 400.28 L327.3 401.35 L328.3 403.37 L329.3 406.23 L330.3 409.73 L331.3 413.65 L332.3 417.72 L333.3 421.68 L334.3 425.26 L335.3 428.22 L336.3 430.37 L337.3 431.58 L338.3 431.76 L339.3 430.93 L340.3 429.16 L341.3 426.56 L342.3 423.30 L343.3 419.60 L344.3 415.69 L345.3 411.82 L346.3 408.25 L347.3 405.18 L348.3 402.83 L349.3 401.31 L350.3 400.73 L351.3 401.15 L352.3 402.60 L353.3 404.96 L354.3 408.06 L355.3 411.66 L356.3 415.50 L357.3 419.31 L358.3 422.81 L359.3 425.76 L360.3 427.96 L361.3 429.27 L362.3 429.62 L363.3 429.04 L364.3 427.64 L365.3 425.52 L366.3 422.84 L367.3 419.77 L368.3 416.54 L369.3 413.34 L370.3 410.38 L371.3 407.86 L372.3 405.91 L373.3 404.65 L374.3 404.13 L375.3 404.41 L376.3 405.56 L377.3 407.47 L378.3 409.98 L379.3 412.86 L380.3 415.89 L381.3 418.81 L382.3 421.41 L383.3 423.50 L384.3 424.92 L385.3 425.59 L386.3 425.49 L387.3 424.77 L388.3 423.51 L389.3 421.82 L390.3 419.82 L391.3 417.65 L392.3 415.45 L393.3 413.38 L394.3 411.55 L395.3 410.07 L396.3 409.02 L397.3 408.46 L398.3 408.39 L399.3 408.85 L400.3 409.83 L401.3 411.23 L402.3 412.93 L403.3 414.77 L404.3 416.61 L405.3 418.30 L406.3 419.72 L407.3 420.78 L408.3 421.40 L409.3 421.56 L410.3 421.29 L411.3 420.66 L412.3 419.73 L413.3 418.58 L414.3 417.31 L415.3 416.01 L416.3 414.78 L417.3 413.69 L418.3 412.82 L419.3 412.22 L420.3 411.90 L421.3 411.89"/>
<path d="M268.3 419.29 L269.3 418.14 L270.3 417.00 L271.3 415.95 L272.3 415.07 L273.3 414.41 L274.3 414.05 L275.3 414.03 L276.3 414.36 L277.3 415.06 L278.3 416.10 L279.3 417.45 L280.3 419.03 L281.3 420.76 L282.3 422.54 L283.3 424.26 L284.3 425.81 L285.3 427.08 L286.3 427.96 L287.3 428.39 L288.3 428.31 L289.3 427.69 L290.3 426.54 L291.3 424.90 L292.3 422.86 L293.3 420.53 L294.3 418.04 L295.3 415.55 L296.3 413.20 L297.3 411.16 L298.3 409.57 L299.3 408.55 L300.3 408.19 L301.3 408.58 L302.3 409.73 L303.3 411.61 L304.3 414.10 L305.3 417.05 L306.3 420.29 L307.3 423.60 L308.3 426.76 L309.3 429.55 L310.3 431.77 L311.3 433.26 L312.3 433.88 L313.3 433.66 L314.3 432.66 L315.3 430.91 L316.3 428.51 L317.3 425.57 L318.3 422.25 L319.3 418.73 L320.3 415.22 L321.3 411.91 L322.3 408.99 L323.3 406.64 L324.3 404.99 L325.3 404.15 L326.3 404.19 L327.3 405.26 L328.3 407.28 L329.3 410.14 L330.3 413.64 L331.3 417.56 L332.3 421.63 L333.3 425.59 L334.3 429.17 L335.3 432.13 L336.3 434.28 L337.3 435.49 L338.3 435.67 L339.3 434.84 L340.3 433.07 L341.3 430.47 L342.3 427.21 L343.3 423.51 L344.3 419.60 L345.3 415.73 L346.3 412.16 L347.3 409.09 L348.3 406.74 L349.3 405.22 L350.3 404.64 L351.3 405.06 L352.3 406.51 L353.3 408.87 L354.3 411.97 L355.3 415.57 L356.3 419.41 L357.3 423.22 L358.3 426.72 L359.3 429.67 L360.3 431.87 L361.3 433.18 L362.3 433.53 L363.3 432.95 L364.3 431.55 L365.3 429.43 L366.3 426.75 L367.3 423.68 L368.3 420.45 L369.3 417.25 L370.3 414.29 L371.3 411.77 L372.3 409.82 L373.3 408.56 L374.3 408.04 L375.3 408.32 L376.3 409.47 L377.3 411.38 L378.3 413.89 L379.3 416.77 L380.3 419.80 L381.3 422.72 L382.3 425.32 L383.3 427.41 L384.3 428.83 L385.3 429.50 L386.3 429.40 L387.3 428.68 L388.3 427.42 L389.3 425.73 L390.3 423.73 L391.3 421.56 L392.3 419.36 L393.3 417.29 L394.3 415.46 L395.3 413.98 L396.3 412.93 L397.3 412.37 L398.3 412.30 L399.3 412.76 L400.3 413.74 L401.3 415.14 L402.3 416.84 L403.3 418.68 L404.3 420.52 L405.3 422.21 L406.3 423.63 L407.3 424.69 L408.3 425.31 L409.3 425.47 L410.3 425.20 L411.3 424.57 L412.3 423.64 L413.3 422.49 L414.3 421.22 L415.3 419.92 L416.3 418.69 L417.3 417.60 L418.3 416.73 L419.3 416.13 L420.3 415.81 L421.3 415.80"/>
<path d="M268.3 423.18 L269.3 422.02 L270.3 420.89 L271.3 419.84 L272.3 418.95 L273.3 418.30 L274.3 417.94 L275.3 417.91 L276.3 418.24 L277.3 418.94 L278.3 419.99 L279.3 421.33 L280.3 422.91 L281.3 424.65 L282.3 426.43 L283.3 428.15 L284.3 429.69 L285.3 430.96 L286.3 431.85 L287.3 432.28 L288.3 432.19 L289.3 431.57 L290.3 430.42 L291.3 428.78 L292.3 426.75 L293.3 424.42 L294.3 421.93 L295.3 419.43 L296.3 417.08 L297.3 415.04 L298.3 413.45 L299.3 412.43 L300.3 412.07 L301.3 412.46 L302.3 413.62 L303.3 415.49 L304.3 417.98 L305.3 420.94 L306.3 424.18 L307.3 427.49 L308.3 430.65 L309.3 433.44 L310.3 435.66 L311.3 437.14 L312.3 437.77 L313.3 437.55 L314.3 436.54 L315.3 434.80 L316.3 432.39 L317.3 429.45 L318.3 426.13 L319.3 422.62 L320.3 419.10 L321.3 415.79 L322.3 412.87 L323.3 410.52 L324.3 408.87 L325.3 408.03 L326.3 408.08 L327.3 409.14 L328.3 411.16 L329.3 414.02 L330.3 417.52 L331.3 421.44 L332.3 425.51 L333.3 429.47 L334.3 433.05 L335.3 436.01 L336.3 438.17 L337.3 439.37 L338.3 439.56 L339.3 438.73 L340.3 436.95 L341.3 434.35 L342.3 431.10 L343.3 427.39 L344.3 423.48 L345.3 419.62 L346.3 416.04 L347.3 412.98 L348.3 410.62 L349.3 409.11 L350.3 408.53 L351.3 408.95 L352.3 410.39 L353.3 412.75 L354.3 415.85 L355.3 419.45 L356.3 423.29 L357.3 427.10 L358.3 430.60 L359.3 433.55 L360.3 435.75 L361.3 437.07 L362.3 437.42 L363.3 436.84 L364.3 435.43 L365.3 433.31 L366.3 430.63 L367.3 427.57 L368.3 424.33 L369.3 421.13 L370.3 418.18 L371.3 415.65 L372.3 413.70 L373.3 412.44 L374.3 411.93 L375.3 412.20 L376.3 413.35 L377.3 415.26 L378.3 417.77 L379.3 420.65 L380.3 423.68 L381.3 426.61 L382.3 429.21 L383.3 431.29 L384.3 432.71 L385.3 433.38 L386.3 433.29 L387.3 432.56 L388.3 431.30 L389.3 429.61 L390.3 427.61 L391.3 425.44 L392.3 423.25 L393.3 421.17 L394.3 419.34 L395.3 417.86 L396.3 416.82 L397.3 416.25 L398.3 416.18 L399.3 416.64 L400.3 417.62 L401.3 419.03 L402.3 420.72 L403.3 422.57 L404.3 424.41 L405.3 426.10 L406.3 427.52 L407.3 428.57 L408.3 429.19 L409.3 429.35 L410.3 429.09 L411.3 428.45 L412.3 427.52 L413.3 426.38 L414.3 425.11 L415.3 423.81 L416.3 422.57 L417.3 421.49 L418.3 420.62 L419.3 420.01 L420.3 419.70 L421.3 419.68"/>
</g>
<path d="M428.2 413 V436 H403.5" fill="none" stroke="#000" stroke-width="1.5"/>
<text x="433.5" y="427.8" font-family="Liberation Sans" font-weight="bold" font-size="9">0.1 mV</text>
<text x="404" y="447.2" font-family="Liberation Sans" font-weight="bold" font-size="9">10 ms</text>
<defs>
<filter id="texD" x="0" y="0" width="100%" height="100%" color-interpolation-filters="sRGB"><feTurbulence type="fractalNoise" baseFrequency="0.62" numOctaves="2" seed="7"/><feColorMatrix type="matrix" values="1 0 0 0 0 1 0 0 0 0 1 0 0 0 0 0 0 0 0 1"/><feComponentTransfer><feFuncR type="linear" slope="3.6" intercept="-1.08"/><feFuncG type="linear" slope="3.6" intercept="-1.08"/><feFuncB type="linear" slope="3.6" intercept="-1.08"/></feComponentTransfer><feComponentTransfer><feFuncR type="linear" slope="0.62" intercept="0.08"/><feFuncG type="linear" slope="0.62" intercept="0.08"/><feFuncB type="linear" slope="0.62" intercept="0.08"/></feComponentTransfer><feGaussianBlur stdDeviation="0.35"/></filter>
<clipPath id="clipD"><path d="M29 276.7 L198.60 276.70 C198.27 277.57 197.45 280.48 196.60 281.90 C195.75 283.32 194.53 284.27 193.50 285.20 C192.47 286.13 190.85 286.37 190.40 287.50 C189.95 288.63 190.52 290.30 190.80 292.00 C191.08 293.70 191.95 295.60 192.10 297.70 C192.25 299.80 191.97 302.28 191.70 304.60 C191.43 306.92 191.08 309.45 190.50 311.60 C189.92 313.75 189.37 315.27 188.20 317.50 C187.03 319.73 185.45 321.75 183.50 325.00 C181.55 328.25 178.83 332.75 176.50 337.00 C174.17 341.25 172.12 345.67 169.50 350.50 C166.88 355.33 164.22 360.50 160.80 366.00 C157.38 371.50 152.85 378.58 149.00 383.50 C145.15 388.42 141.12 392.25 137.70 395.50 C134.28 398.75 131.12 400.67 128.50 403.00 C125.88 405.33 123.68 407.80 122.00 409.50 C120.32 411.20 119.97 412.45 118.40 413.20 C116.83 413.95 114.90 413.37 112.60 414.00 C110.30 414.63 107.03 415.55 104.60 417.00 C102.17 418.45 100.07 421.10 98.00 422.70 C95.93 424.30 93.90 424.97 92.20 426.60 C90.50 428.23 89.50 430.87 87.80 432.50 C86.10 434.13 84.20 435.38 82.00 436.40 C79.80 437.42 76.55 438.45 74.60 438.60 C72.65 438.75 71.75 437.85 70.30 437.30 C68.85 436.75 67.62 435.53 65.90 435.30 C64.18 435.07 61.35 435.32 60.00 435.90 C58.65 436.48 58.40 437.87 57.80 438.80 C57.20 439.73 56.63 441.05 56.40 441.50 L29 441.5 Z"/></clipPath>
<filter id="blurD" x="-20%" y="-20%" width="140%" height="140%"><feGaussianBlur stdDeviation="3"/></filter>
<filter id="blurD3" x="-20%" y="-20%" width="140%" height="140%"><feGaussianBlur stdDeviation="0.8"/></filter>
<filter id="blurD2" x="-50%" y="-50%" width="200%" height="200%"><feGaussianBlur stdDeviation="7"/></filter>
</defs>
<rect x="29" y="276.7" width="171.5" height="164.8" fill="#adadad"/>
<g clip-path="url(#clipD)">
<rect x="29" y="276.7" width="171.5" height="164.8" filter="url(#texD)"/>
<g filter="url(#blurD2)" fill="#c4c4c4"><ellipse cx="86" cy="414" rx="17" ry="12" opacity="0.85"/><ellipse cx="48" cy="355" rx="20" ry="45" opacity="0.5"/><ellipse cx="70" cy="395" rx="12" ry="14" opacity="0.4"/><ellipse cx="95" cy="330" rx="12" ry="20" opacity="0.25"/></g>
<g filter="url(#blurD2)" fill="#000"><ellipse cx="42" cy="428" rx="14" ry="12" opacity="0.35"/><ellipse cx="160" cy="300" rx="25" ry="18" opacity="0.25"/><ellipse cx="148" cy="325" rx="28" ry="40" opacity="0.18"/><ellipse cx="120" cy="284" rx="60" ry="8" opacity="0.18"/></g>
<path d="M201.00 274.00 C200.60 274.45 199.33 275.38 198.60 276.70 C197.87 278.02 197.45 280.48 196.60 281.90 C195.75 283.32 194.53 284.27 193.50 285.20 C192.47 286.13 190.85 286.37 190.40 287.50 C189.95 288.63 190.52 290.30 190.80 292.00 C191.08 293.70 191.95 295.60 192.10 297.70 C192.25 299.80 191.97 302.28 191.70 304.60 C191.43 306.92 191.08 309.45 190.50 311.60 C189.92 313.75 189.37 315.27 188.20 317.50 C187.03 319.73 185.45 321.75 183.50 325.00 C181.55 328.25 178.83 332.75 176.50 337.00 C174.17 341.25 172.12 345.67 169.50 350.50 C166.88 355.33 164.22 360.50 160.80 366.00 C157.38 371.50 152.85 378.58 149.00 383.50 C145.15 388.42 141.12 392.25 137.70 395.50 C134.28 398.75 130.03 401.75 128.50 403.00" fill="none" stroke="#000" stroke-width="18" filter="url(#blurD)" opacity="0.55"/>
<path d="M149.00 383.50 C147.12 385.50 141.12 392.25 137.70 395.50 C134.28 398.75 131.12 400.67 128.50 403.00 C125.88 405.33 123.68 407.80 122.00 409.50 C120.32 411.20 119.97 412.45 118.40 413.20 C116.83 413.95 114.90 413.37 112.60 414.00 C110.30 414.63 107.03 415.55 104.60 417.00 C102.17 418.45 100.07 421.10 98.00 422.70 C95.93 424.30 93.90 424.97 92.20 426.60 C90.50 428.23 89.50 430.87 87.80 432.50 C86.10 434.13 84.20 435.38 82.00 436.40 C79.80 437.42 76.55 438.45 74.60 438.60 C72.65 438.75 71.75 437.85 70.30 437.30 C68.85 436.75 67.62 435.53 65.90 435.30 C64.18 435.07 61.35 435.32 60.00 435.90 C58.65 436.48 58.40 437.87 57.80 438.80 C57.20 439.73 56.63 441.05 56.40 441.50" fill="none" stroke="#000" stroke-width="9" filter="url(#blurD)" opacity="0.5"/>
<path d="M201.00 274.00 C200.60 274.45 199.33 275.38 198.60 276.70 C197.87 278.02 197.45 280.48 196.60 281.90 C195.75 283.32 194.53 284.27 193.50 285.20 C192.47 286.13 190.85 286.37 190.40 287.50 C189.95 288.63 190.52 290.30 190.80 292.00 C191.08 293.70 191.95 295.60 192.10 297.70 C192.25 299.80 191.97 302.28 191.70 304.60 C191.43 306.92 191.08 309.45 190.50 311.60 C189.92 313.75 189.37 315.27 188.20 317.50 C187.03 319.73 185.45 321.75 183.50 325.00 C181.55 328.25 178.83 332.75 176.50 337.00 C174.17 341.25 172.12 345.67 169.50 350.50 C166.88 355.33 164.22 360.50 160.80 366.00 C157.38 371.50 152.85 378.58 149.00 383.50 C145.15 388.42 141.12 392.25 137.70 395.50 C134.28 398.75 130.03 401.75 128.50 403.00" fill="none" stroke="#000" stroke-width="4.5" filter="url(#blurD3)"/>
<path d="M149.00 383.50 C147.12 385.50 141.12 392.25 137.70 395.50 C134.28 398.75 131.12 400.67 128.50 403.00 C125.88 405.33 123.68 407.80 122.00 409.50 C120.32 411.20 119.97 412.45 118.40 413.20 C116.83 413.95 114.90 413.37 112.60 414.00 C110.30 414.63 107.03 415.55 104.60 417.00 C102.17 418.45 100.07 421.10 98.00 422.70 C95.93 424.30 93.90 424.97 92.20 426.60 C90.50 428.23 89.50 430.87 87.80 432.50 C86.10 434.13 84.20 435.38 82.00 436.40 C79.80 437.42 76.55 438.45 74.60 438.60 C72.65 438.75 71.75 437.85 70.30 437.30 C68.85 436.75 67.62 435.53 65.90 435.30 C64.18 435.07 61.35 435.32 60.00 435.90 C58.65 436.48 58.40 437.87 57.80 438.80 C57.20 439.73 56.63 441.05 56.40 441.50" fill="none" stroke="#000" stroke-width="3.2" filter="url(#blurD3)"/>
</g>
<path d="M56.5 441.5 C57 437 60 434.5 64 434.8 C67 435 69 437.5 69.5 441.5 Z" fill="#b0b0b0" stroke="#000" stroke-width="1.6"/>
<path d="M75 341 L85 356" stroke="#111" stroke-width="2.2" stroke-linecap="round"/>
<filter id="orTex" x="0" y="0" width="100%" height="100%" color-interpolation-filters="sRGB"><feTurbulence type="fractalNoise" baseFrequency="0.5" numOctaves="2" seed="2" result="n"/><feColorMatrix in="n" type="matrix" values="0.234 0 0 0 0.8515  1.32 0 0 0 0.17  1.65 0 0 0 -0.1625  0 0 0 0 1" result="c"/><feComposite in="c" in2="SourceGraphic" operator="in"/></filter>
<path d="M109.3 276.7 L115.8 276.7 L116.5 309 L118.6 340 L121.5 365 L124.6 393 L122 398 L119 394 L115.5 365 L111.3 340 L110 309 Z" fill="#000" filter="url(#orTex)"/>
<ellipse cx="135.4" cy="333" rx="2.3" ry="2" fill="#f6c890"/><circle cx="134.8" cy="333.6" r="0.9" fill="#e88a40"/>
<path d="M120.6 345.7 V393.5 H123.5" fill="none" stroke="#111" stroke-width="1.5"/>
<rect x="133" y="442.8" width="67.5" height="2.2" fill="#000"/>
<text x="167.5" y="454" font-family="Liberation Sans" font-weight="bold" font-size="9" text-anchor="middle">1mm</text>
<g stroke="#000" stroke-width="1.7" stroke-dasharray="6 3.5" fill="none">
<path d="M120.6 345.7 L263.7 283.7"/>
<path d="M141 397.3 L261.4 423.2"/>
</g>
<defs>
<filter id="texF" x="0" y="0" width="100%" height="100%" color-interpolation-filters="sRGB"><feTurbulence type="fractalNoise" baseFrequency="0.45" numOctaves="3" seed="11"/><feColorMatrix type="matrix" values="1 0 0 0 0 1 0 0 0 0 1 0 0 0 0 0 0 0 0 1"/><feComponentTransfer><feFuncR type="linear" slope="3.4" intercept="-1.1"/><feFuncG type="linear" slope="3.4" intercept="-1.1"/><feFuncB type="linear" slope="3.4" intercept="-1.1"/></feComponentTransfer><feComponentTransfer><feFuncR type="linear" slope="0.55" intercept="0.03"/><feFuncG type="linear" slope="0.55" intercept="0.03"/><feFuncB type="linear" slope="0.55" intercept="0.03"/></feComponentTransfer><feGaussianBlur stdDeviation="0.3"/></filter>
<filter id="texF2" x="0" y="0" width="100%" height="100%" color-interpolation-filters="sRGB"><feTurbulence type="fractalNoise" baseFrequency="0.22 0.4" numOctaves="3" seed="5"/><feColorMatrix type="matrix" values="1 0 0 0 0 1 0 0 0 0 1 0 0 0 0 0 0 0 0 1"/><feComponentTransfer><feFuncR type="linear" slope="2.5" intercept="-0.3"/><feFuncG type="linear" slope="2.5" intercept="-0.3"/><feFuncB type="linear" slope="2.5" intercept="-0.3"/></feComponentTransfer><feComponentTransfer><feFuncR type="linear" slope="0.49" intercept="0"/><feFuncG type="linear" slope="0.49" intercept="0"/><feFuncB type="linear" slope="0.49" intercept="0"/></feComponentTransfer></filter>
<filter id="blurF" x="-50%" y="-50%" width="200%" height="200%"><feGaussianBlur stdDeviation="8"/></filter>
<filter id="blurF1" x="-50%" y="-50%" width="200%" height="200%"><feGaussianBlur stdDeviation="1"/></filter>
<filter id="blurF05" x="-50%" y="-50%" width="200%" height="200%"><feGaussianBlur stdDeviation="0.6"/></filter>
<mask id="mF" maskUnits="userSpaceOnUse" x="470" y="270" width="190" height="180"><g filter="url(#blurF)" fill="#fff"><ellipse cx="525" cy="425" rx="55" ry="30"/><ellipse cx="632" cy="320" rx="30" ry="50"/><ellipse cx="600" cy="380" rx="35" ry="22"/><ellipse cx="640" cy="285" rx="20" ry="15" opacity="0.6"/><ellipse cx="492" cy="362" rx="18" ry="40" opacity="0.9"/><ellipse cx="596" cy="330" rx="14" ry="25" opacity="0.7"/></g></mask>
<clipPath id="clipF"><rect x="480" y="277" width="167" height="162"/></clipPath>
<radialGradient id="redCore"><stop offset="0" stop-color="#8c0000"/><stop offset="0.35" stop-color="#b00a0a"/><stop offset="0.7" stop-color="#cc4848" stop-opacity="0.8"/><stop offset="1" stop-color="#e08080" stop-opacity="0"/></radialGradient>
<linearGradient id="cbar" x1="0" y1="0" x2="0" y2="1"><stop offset="0" stop-color="#7a1c22"/><stop offset="0.15" stop-color="#a84048"/><stop offset="0.32" stop-color="#c47e82"/><stop offset="0.46" stop-color="#dcc4c4"/><stop offset="0.5" stop-color="#dedede"/><stop offset="0.56" stop-color="#c8c8dc"/><stop offset="0.7" stop-color="#9494c2"/><stop offset="0.85" stop-color="#5a5aa2"/><stop offset="1" stop-color="#2a2a7a"/></linearGradient>
</defs>
<g clip-path="url(#clipF)">
<rect x="480" y="277" width="167" height="162" filter="url(#texF)"/>
<rect x="480" y="277" width="167" height="162" filter="url(#texF2)" mask="url(#mF)"/>
<g filter="url(#blurF)" fill="#000"><ellipse cx="510" cy="290" rx="36" ry="16" opacity="0.5"/></g>
<g fill="#000" opacity="0.45" filter="url(#blurF1)"><ellipse cx="492" cy="400" rx="4" ry="2.5"/><ellipse cx="503" cy="409" rx="5" ry="2.5"/><ellipse cx="520" cy="404" rx="3" ry="4"/><ellipse cx="530" cy="395" rx="4" ry="2.5"/><ellipse cx="487" cy="388" rx="4" ry="2"/><ellipse cx="600" cy="358" rx="4" ry="2"/><ellipse cx="610" cy="342" rx="3" ry="2"/><ellipse cx="625" cy="316" rx="4" ry="2"/><ellipse cx="636" cy="300" rx="3" ry="2"/><ellipse cx="597" cy="372" rx="4" ry="2.5"/></g>
<path d="M617 337 C625 338 640 343 648 345 L648 441 L500 441 L506 438 L518 432 L528 425 L544 416 L568 406 L592 391 L606 385 L614 378 C616 365 614 350 617 337 Z" fill="#737373"/>
<path d="M500 441 L506 438 L518 432 L528 425 L544 416 L568 406 L592 391 L606 385 L614 378" fill="none" stroke="#2a2a2a" stroke-width="0.8"/>
<clipPath id="clipOv"><path d="M506 322 L527 322 L527 308 L582 308 L582 382 L506 382 Z"/></clipPath>
<linearGradient id="blueG" x1="0" y1="0" x2="0" y2="1"><stop offset="0" stop-color="#a0a0c8" stop-opacity="0.42"/><stop offset="0.45" stop-color="#9090d0" stop-opacity="0.52"/><stop offset="1" stop-color="#7070dc" stop-opacity="0.72"/></linearGradient>
<g clip-path="url(#clipOv)">
<rect x="506" y="308" width="76" height="74" fill="#a0a0a0" opacity="0.4"/>
<path d="M527 308 H582 V382 H506 V334 L518 333 L527 326 Z" fill="url(#blueG)" filter="url(#blurF05)"/>
<path d="M506 385 L514 384 L518 376 L524 368 L533 358 L546 350 L558 349 L572 355 L584 362" fill="none" stroke="#4848d8" stroke-width="9" opacity="0.45" filter="url(#blurF1)"/>
</g>
<g fill="#c08888" opacity="0.45" filter="url(#blurF1)"><circle cx="509" cy="325.7" r="5"/><circle cx="521.8" cy="318.8" r="6"/><circle cx="527.7" cy="338.6" r="4"/><circle cx="556.4" cy="315.8" r="6"/><circle cx="554.4" cy="334.6" r="5"/><circle cx="576" cy="311.9" r="6"/></g>
<path d="M528.5 382 L529 371 L533 364 L538 360 L545.5 356 L550 354.5 L557.4 354 L560 354.6 L569.2 359.4 L572 360.5 L579.1 365 L582 368 L582 376 L578 382 Z" fill="#e07c7c" opacity="0.93" filter="url(#blurF05)"/>
<ellipse cx="575" cy="369" rx="7" ry="5" fill="#e89c9c" opacity="0.6" filter="url(#blurF1)"/>
<ellipse cx="541.5" cy="374" rx="11" ry="8.5" fill="url(#redCore)"/>
<linearGradient id="blobG" x1="0" y1="0" x2="0" y2="1"><stop offset="0" stop-color="#a8a4a4"/><stop offset="0.45" stop-color="#b49c98"/><stop offset="1" stop-color="#c08c84"/></linearGradient>
<ellipse cx="511" cy="357.5" rx="9.5" ry="14" fill="url(#blobG)" opacity="0.95" filter="url(#blurF05)"/>
<path d="M514.5 346.5 C519 348.5 521 353 519.5 359" fill="none" stroke="#2a0c0c" stroke-width="2.8" filter="url(#blurF05)"/>
<ellipse cx="501.5" cy="359.5" rx="3.8" ry="5.5" fill="#000" filter="url(#blurF05)"/>
<g stroke="#c8ccbc" stroke-width="3" opacity="0.6" fill="none" stroke-linecap="round"><path d="M577.6 277 V358"/><path d="M562.3 296 V350"/><path d="M550.4 300 V346"/><path d="M524.7 306 V346"/><path d="M538 312 V344"/></g>
<path d="M486 402.5 L489 403 L495 404.9 L505.7 404.4 L509.6 402.4 L512.6 400 L514 396.5 L516.8 390 L518 384 L522 374 L523.7 371.2 L530 364 L533.6 360.3 L538 358 L545.5 353.4 L550 352.4 L557.4 351.8 L560 352.4 L569.2 357.4 L572 358 L579.1 363.3 L582 366 L587 368.2 L592 368" fill="none" stroke="#000" stroke-width="3.0" stroke-linejoin="round"/>
<path d="M486 402.5 L489 403 L495 404.9 L505.7 404.4 L509.6 402.4 L512.6 400 L514 396.5 L516.8 390 L518 384 L522 374 L523.7 371.2 L530 364 L533.6 360.3 L538 358 L545.5 353.4 L550 352.4 L557.4 351.8 L560 352.4 L569.2 357.4 L572 358 L579.1 363.3 L582 366 L587 368.2 L592 368" fill="none" stroke="#eeee60" stroke-width="1.9" stroke-dasharray="4.5 3" stroke-linejoin="round"/>
</g>
<rect x="480" y="277" width="167" height="162" fill="none" stroke="#444" stroke-width="0.6"/>
<rect x="652.3" y="277.3" width="13.4" height="161.8" fill="url(#cbar)" stroke="#3a3a3a" stroke-width="0.7"/>
<text x="659.5" y="272.6" font-family="Liberation Sans" font-size="9.5" text-anchor="middle" stroke="#000" stroke-width="0.3">µA/mm^3</text>
<text transform="translate(670.3 284.2) scale(0.9 1)" font-family="Liberation Sans" font-size="10.6" stroke="#000" stroke-width="0.3">5.0</text>
<text transform="translate(668.8 440.6) scale(0.9 1)" font-family="Liberation Sans" font-size="10.6" stroke="#000" stroke-width="0.3">-5.0</text>
<rect x="589.5" y="441" width="57.5" height="1.8" fill="#000"/>
<text x="618" y="451.8" font-family="Liberation Sans" font-weight="bold" font-size="9" text-anchor="middle">1mm</text>
</svg>
</body></html>
